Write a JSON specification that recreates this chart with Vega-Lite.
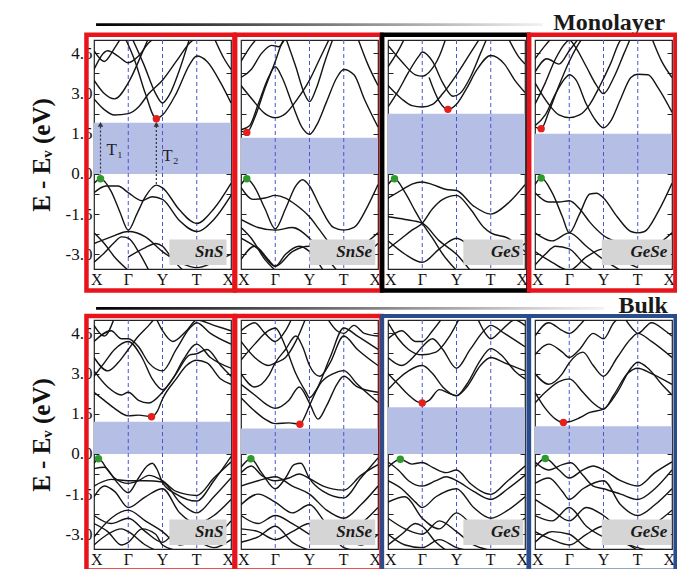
{
"$schema":"https://vega.github.io/schema/vega-lite/v6.json",
"background":"white",
"padding":{"left":28,"top":10,"right":0,"bottom":0},
"config":{"view":{"stroke":"#222","strokeWidth":1.2},"font":"Liberation Serif"},
"datasets":{
"gaps":[
{"p":"m1","m":"SnS","vbm":0,"cbm":1.91},{"p":"m2","m":"SnSe","vbm":0,"cbm":1.35},{"p":"m3","m":"GeS","vbm":0,"cbm":2.25},{"p":"m4","m":"GeSe","vbm":0,"cbm":1.5},
{"p":"b1","m":"SnS","vbm":0,"cbm":1.2},{"p":"b2","m":"SnSe","vbm":0,"cbm":0.95},{"p":"b3","m":"GeS","vbm":0,"cbm":1.74},{"p":"b4","m":"GeSe","vbm":0,"cbm":1.03}],
"sym":[{"k":1,"n":"Γ"},{"k":2,"n":"Y"},{"k":3,"n":"T"}],
"kp":[{"k":0,"n":"X"},{"k":1,"n":"Γ"},{"k":2,"n":"Y"},{"k":3,"n":"T"},{"k":4,"n":"X"}],
"heads":[{"r":"Monolayer"},{"r":"Bulk"}],
"arrows":[{"p":"m1","n":"T₁","x":0.19,"y1":-0.1,"y2":1.85,"ly":0.9},{"p":"m1","n":"T₂","x":1.82,"y1":-0.38,"y2":1.85,"ly":0.67}],
"dots":[
{"p":"m1","t":"VBM","x":0.19,"y":-0.18},{"p":"m1","t":"CBM","x":1.82,"y":2.06},
{"p":"m2","t":"VBM","x":0.17,"y":-0.18},{"p":"m2","t":"CBM","x":0.17,"y":1.55},
{"p":"m3","t":"VBM","x":0.19,"y":-0.18},{"p":"m3","t":"CBM","x":1.75,"y":2.41},
{"p":"m4","t":"VBM","x":0.18,"y":-0.15},{"p":"m4","t":"CBM","x":0.18,"y":1.69},
{"p":"b1","t":"VBM","x":0.13,"y":-0.18},{"p":"b1","t":"CBM","x":1.68,"y":1.39},
{"p":"b2","t":"VBM","x":0.29,"y":-0.18},{"p":"b2","t":"CBM","x":1.72,"y":1.11},
{"p":"b3","t":"VBM","x":0.36,"y":-0.2},{"p":"b3","t":"CBM","x":1.0,"y":1.9},
{"p":"b4","t":"VBM","x":0.3,"y":-0.17},{"p":"b4","t":"CBM","x":0.83,"y":1.17}],
"bands":[
{"p":"m1","b":"a","x":0,"y":-0.35},{"p":"m1","b":"a","x":0.19,"y":-0.18},{"p":"m1","b":"a","x":0.5,"y":-0.65},{"p":"m1","b":"a","x":0.75,"y":-1.4},{"p":"m1","b":"a","x":1,"y":-2.1},{"p":"m1","b":"a","x":1.25,"y":-1.5},{"p":"m1","b":"a","x":1.5,"y":-0.85},{"p":"m1","b":"a","x":1.82,"y":-0.42},{"p":"m1","b":"a","x":2,"y":-0.52},{"p":"m1","b":"a","x":2.5,"y":-1.35},{"p":"m1","b":"a","x":3,"y":-1.85},{"p":"m1","b":"a","x":3.5,"y":-1.3},{"p":"m1","b":"a","x":4,"y":-0.35},
{"p":"m1","b":"b","x":0,"y":-0.7},{"p":"m1","b":"b","x":0.35,"y":-0.45},{"p":"m1","b":"b","x":0.7,"y":-0.45},{"p":"m1","b":"b","x":1,"y":-0.7},{"p":"m1","b":"b","x":1.4,"y":-1.0},{"p":"m1","b":"b","x":1.7,"y":-0.85},{"p":"m1","b":"b","x":2,"y":-0.95},{"p":"m1","b":"b","x":2.5,"y":-1.75},{"p":"m1","b":"b","x":3,"y":-2.15},{"p":"m1","b":"b","x":3.5,"y":-1.7},{"p":"m1","b":"b","x":4,"y":-0.8},
{"p":"m1","b":"c","x":0,"y":-2.6},{"p":"m1","b":"c","x":0.5,"y":-2.35},{"p":"m1","b":"c","x":1,"y":-2.15},{"p":"m1","b":"c","x":1.5,"y":-2.35},{"p":"m1","b":"c","x":2,"y":-2.9},{"p":"m1","b":"c","x":2.5,"y":-3.3},{"p":"m1","b":"c","x":3,"y":-3.5},{"p":"m1","b":"c","x":3.5,"y":-3.3},{"p":"m1","b":"c","x":4,"y":-3.0},
{"p":"m1","b":"d","x":0,"y":-2.2},{"p":"m1","b":"d","x":0.3,"y":-2.6},{"p":"m1","b":"d","x":0.6,"y":-3.1},{"p":"m1","b":"d","x":1,"y":-3.6},
{"p":"m1","b":"e","x":0,"y":-3.3},{"p":"m1","b":"e","x":0.3,"y":-2.95},{"p":"m1","b":"e","x":0.6,"y":-2.55},{"p":"m1","b":"e","x":0.8,"y":-2.35},{"p":"m1","b":"e","x":1,"y":-2.4},{"p":"m1","b":"e","x":1.3,"y":-2.9},{"p":"m1","b":"e","x":1.6,"y":-3.6},
{"p":"m1","b":"f","x":1,"y":-3.1},{"p":"m1","b":"f","x":1.5,"y":-2.75},{"p":"m1","b":"f","x":1.8,"y":-2.6},{"p":"m1","b":"f","x":2,"y":-2.7},{"p":"m1","b":"f","x":2.3,"y":-3.2},{"p":"m1","b":"f","x":2.6,"y":-3.6},
{"p":"m1","b":"g","x":0,"y":2.8},{"p":"m1","b":"g","x":0.3,"y":2.4},{"p":"m1","b":"g","x":0.6,"y":2.2},{"p":"m1","b":"g","x":1,"y":2.25},{"p":"m1","b":"g","x":1.3,"y":2.5},{"p":"m1","b":"g","x":1.6,"y":3.0},{"p":"m1","b":"g","x":2,"y":3.5},{"p":"m1","b":"g","x":2.4,"y":4.2},{"p":"m1","b":"g","x":2.8,"y":4.9},{"p":"m1","b":"g","x":3,"y":5.1},
{"p":"m1","b":"h","x":0.9,"y":5.1},{"p":"m1","b":"h","x":1.2,"y":4.2},{"p":"m1","b":"h","x":1.5,"y":3.0},{"p":"m1","b":"h","x":1.82,"y":2.06},{"p":"m1","b":"h","x":2,"y":2.2},{"p":"m1","b":"h","x":2.4,"y":3.0},{"p":"m1","b":"h","x":2.8,"y":4.1},{"p":"m1","b":"h","x":3,"y":4.4},{"p":"m1","b":"h","x":3.3,"y":4.2},{"p":"m1","b":"h","x":3.7,"y":3.4},{"p":"m1","b":"h","x":4,"y":2.65},
{"p":"m1","b":"i","x":0,"y":3.5},{"p":"m1","b":"i","x":0.3,"y":3.0},{"p":"m1","b":"i","x":0.6,"y":2.8},{"p":"m1","b":"i","x":1,"y":3.4},{"p":"m1","b":"i","x":1.4,"y":4.5},{"p":"m1","b":"i","x":1.6,"y":5.1},
{"p":"m1","b":"j","x":1.1,"y":5.1},{"p":"m1","b":"j","x":1.45,"y":4.1},{"p":"m1","b":"j","x":1.8,"y":3.0},{"p":"m1","b":"j","x":2,"y":2.65},{"p":"m1","b":"j","x":2.2,"y":2.95},{"p":"m1","b":"j","x":2.5,"y":3.9},{"p":"m1","b":"j","x":2.8,"y":5.1},
{"p":"m1","b":"k","x":0,"y":3.9},{"p":"m1","b":"k","x":0.4,"y":4.6},{"p":"m1","b":"k","x":0.7,"y":4.4},{"p":"m1","b":"k","x":1,"y":4.15},{"p":"m1","b":"k","x":1.3,"y":4.4},{"p":"m1","b":"k","x":1.6,"y":4.9},{"p":"m1","b":"k","x":1.8,"y":5.1},
{"p":"m1","b":"l","x":0,"y":4.6},{"p":"m1","b":"l","x":0.3,"y":4.2},{"p":"m1","b":"l","x":0.6,"y":4.7},{"p":"m1","b":"l","x":0.8,"y":5.1},
{"p":"m1","b":"m","x":3.5,"y":5.1},{"p":"m1","b":"m","x":3.8,"y":4.3},{"p":"m1","b":"m","x":4,"y":3.9},

{"p":"m2","b":"a","x":0,"y":-0.4},{"p":"m2","b":"a","x":0.17,"y":-0.18},{"p":"m2","b":"a","x":0.4,"y":-0.5},{"p":"m2","b":"a","x":0.7,"y":-1.3},{"p":"m2","b":"a","x":1,"y":-2.05},{"p":"m2","b":"a","x":1.3,"y":-1.3},{"p":"m2","b":"a","x":1.6,"y":-0.45},{"p":"m2","b":"a","x":1.8,"y":-0.22},{"p":"m2","b":"a","x":2,"y":-0.45},{"p":"m2","b":"a","x":2.3,"y":-1.2},{"p":"m2","b":"a","x":2.7,"y":-2.0},{"p":"m2","b":"a","x":3,"y":-2.1},{"p":"m2","b":"a","x":3.3,"y":-2.0},{"p":"m2","b":"a","x":3.7,"y":-1.2},{"p":"m2","b":"a","x":4,"y":-0.4},
{"p":"m2","b":"b","x":0,"y":-0.5},{"p":"m2","b":"b","x":0.35,"y":-0.95},{"p":"m2","b":"b","x":0.7,"y":-0.9},{"p":"m2","b":"b","x":1,"y":-0.8},{"p":"m2","b":"b","x":1.3,"y":-0.9},{"p":"m2","b":"b","x":1.6,"y":-1.15},{"p":"m2","b":"b","x":2,"y":-1.6},{"p":"m2","b":"b","x":2.3,"y":-2.1},{"p":"m2","b":"b","x":2.6,"y":-2.6},{"p":"m2","b":"b","x":3,"y":-2.9},{"p":"m2","b":"b","x":3.5,"y":-2.7},{"p":"m2","b":"b","x":4,"y":-2.2},
{"p":"m2","b":"c","x":0,"y":-1.7},{"p":"m2","b":"c","x":0.5,"y":-2.0},{"p":"m2","b":"c","x":1,"y":-2.1},{"p":"m2","b":"c","x":1.5,"y":-2.0},{"p":"m2","b":"c","x":2,"y":-2.4},{"p":"m2","b":"c","x":2.4,"y":-3.0},{"p":"m2","b":"c","x":2.8,"y":-3.6},
{"p":"m2","b":"d","x":0,"y":-2.4},{"p":"m2","b":"d","x":0.5,"y":-2.8},{"p":"m2","b":"d","x":1,"y":-3.45},{"p":"m2","b":"d","x":1.5,"y":-2.9},{"p":"m2","b":"d","x":2,"y":-2.7},{"p":"m2","b":"d","x":2.5,"y":-3.1},{"p":"m2","b":"d","x":3,"y":-3.3},{"p":"m2","b":"d","x":3.5,"y":-3.1},{"p":"m2","b":"d","x":4,"y":-2.6},
{"p":"m2","b":"e","x":0,"y":-3.2},{"p":"m2","b":"e","x":0.4,"y":-2.7},{"p":"m2","b":"e","x":0.8,"y":-3.2},{"p":"m2","b":"e","x":1,"y":-3.45},{"p":"m2","b":"e","x":1.3,"y":-3.0},{"p":"m2","b":"e","x":1.7,"y":-2.7},{"p":"m2","b":"e","x":2,"y":-2.9},{"p":"m2","b":"e","x":2.4,"y":-3.6},
{"p":"m2","b":"f","x":0,"y":-2.0},{"p":"m2","b":"f","x":0.3,"y":-2.4},{"p":"m2","b":"f","x":0.7,"y":-3.2},{"p":"m2","b":"f","x":1,"y":-3.6},
{"p":"m2","b":"g","x":0,"y":1.6},{"p":"m2","b":"g","x":0.17,"y":1.55},{"p":"m2","b":"g","x":0.4,"y":2.1},{"p":"m2","b":"g","x":0.7,"y":3.2},{"p":"m2","b":"g","x":1,"y":4.2},{"p":"m2","b":"g","x":1.2,"y":4.9},{"p":"m2","b":"g","x":1.3,"y":5.1},
{"p":"m2","b":"h","x":0,"y":1.65},{"p":"m2","b":"h","x":0.25,"y":1.8},{"p":"m2","b":"h","x":0.5,"y":2.6},{"p":"m2","b":"h","x":0.8,"y":3.6},{"p":"m2","b":"h","x":1,"y":4.0},{"p":"m2","b":"h","x":1.2,"y":3.6},{"p":"m2","b":"h","x":1.5,"y":2.6},{"p":"m2","b":"h","x":1.8,"y":1.7},{"p":"m2","b":"h","x":2,"y":1.48},{"p":"m2","b":"h","x":2.2,"y":1.8},{"p":"m2","b":"h","x":2.5,"y":2.7},{"p":"m2","b":"h","x":2.8,"y":3.6},{"p":"m2","b":"h","x":3,"y":3.9},{"p":"m2","b":"h","x":3.3,"y":3.7},{"p":"m2","b":"h","x":3.6,"y":2.8},{"p":"m2","b":"h","x":4,"y":1.75},
{"p":"m2","b":"i","x":0,"y":3.3},{"p":"m2","b":"i","x":0.35,"y":2.75},{"p":"m2","b":"i","x":0.7,"y":2.25},{"p":"m2","b":"i","x":1,"y":2.1},{"p":"m2","b":"i","x":1.3,"y":2.25},{"p":"m2","b":"i","x":1.65,"y":2.8},{"p":"m2","b":"i","x":2,"y":3.5},{"p":"m2","b":"i","x":2.3,"y":4.3},{"p":"m2","b":"i","x":2.6,"y":5.1},
{"p":"m2","b":"j","x":1.3,"y":5.1},{"p":"m2","b":"j","x":1.6,"y":4.0},{"p":"m2","b":"j","x":1.85,"y":3.0},{"p":"m2","b":"j","x":2,"y":2.7},{"p":"m2","b":"j","x":2.2,"y":3.2},{"p":"m2","b":"j","x":2.45,"y":4.2},{"p":"m2","b":"j","x":2.7,"y":5.1},
{"p":"m2","b":"k","x":3.4,"y":5.1},{"p":"m2","b":"k","x":3.7,"y":4.1},{"p":"m2","b":"k","x":4,"y":3.3},
{"p":"m2","b":"l","x":0,"y":4.2},{"p":"m2","b":"l","x":0.3,"y":4.8},{"p":"m2","b":"l","x":0.5,"y":5.1},
{"p":"m2","b":"m","x":0,"y":3.6},{"p":"m2","b":"m","x":0.3,"y":3.9},{"p":"m2","b":"m","x":0.6,"y":4.5},{"p":"m2","b":"m","x":0.9,"y":4.8},{"p":"m2","b":"m","x":1.1,"y":4.75},{"p":"m2","b":"m","x":1.3,"y":5.1},

{"p":"m3","b":"a","x":0,"y":-0.4},{"p":"m3","b":"a","x":0.19,"y":-0.18},{"p":"m3","b":"a","x":0.5,"y":-0.7},{"p":"m3","b":"a","x":0.8,"y":-1.4},{"p":"m3","b":"a","x":1,"y":-1.84},{"p":"m3","b":"a","x":1.3,"y":-2.4},{"p":"m3","b":"a","x":1.6,"y":-3.0},{"p":"m3","b":"a","x":2,"y":-3.6},
{"p":"m3","b":"b","x":0,"y":-0.9},{"p":"m3","b":"b","x":0.4,"y":-0.6},{"p":"m3","b":"b","x":0.7,"y":-0.38},{"p":"m3","b":"b","x":1,"y":-0.3},{"p":"m3","b":"b","x":1.3,"y":-0.4},{"p":"m3","b":"b","x":1.7,"y":-0.58},{"p":"m3","b":"b","x":2,"y":-0.62},{"p":"m3","b":"b","x":2.5,"y":-1.2},{"p":"m3","b":"b","x":3,"y":-1.5},{"p":"m3","b":"b","x":3.5,"y":-1.1},{"p":"m3","b":"b","x":4,"y":-0.4},
{"p":"m3","b":"c","x":0,"y":-2.8},{"p":"m3","b":"c","x":0.4,"y":-2.4},{"p":"m3","b":"c","x":0.7,"y":-2.1},{"p":"m3","b":"c","x":1,"y":-1.84},{"p":"m3","b":"c","x":1.3,"y":-1.3},{"p":"m3","b":"c","x":1.6,"y":-0.95},{"p":"m3","b":"c","x":2,"y":-0.8},{"p":"m3","b":"c","x":2.4,"y":-1.3},{"p":"m3","b":"c","x":2.8,"y":-2.0},{"p":"m3","b":"c","x":3,"y":-2.2},{"p":"m3","b":"c","x":3.5,"y":-2.4},{"p":"m3","b":"c","x":4,"y":-2.9},
{"p":"m3","b":"d","x":0,"y":-1.6},{"p":"m3","b":"d","x":0.5,"y":-1.7},{"p":"m3","b":"d","x":1,"y":-1.84},{"p":"m3","b":"d","x":1.5,"y":-2.5},{"p":"m3","b":"d","x":2,"y":-3.0},{"p":"m3","b":"d","x":2.4,"y":-3.6},
{"p":"m3","b":"e","x":0,"y":-2.5},{"p":"m3","b":"e","x":0.5,"y":-3.0},{"p":"m3","b":"e","x":1,"y":-3.3},{"p":"m3","b":"e","x":1.5,"y":-2.8},{"p":"m3","b":"e","x":2,"y":-2.4},{"p":"m3","b":"e","x":2.5,"y":-2.8},{"p":"m3","b":"e","x":3,"y":-3.2},{"p":"m3","b":"e","x":3.5,"y":-3.0},{"p":"m3","b":"e","x":4,"y":-2.6},
{"p":"m3","b":"f","x":1.2,"y":3.6},{"p":"m3","b":"f","x":1.5,"y":2.7},{"p":"m3","b":"f","x":1.75,"y":2.41},{"p":"m3","b":"f","x":2,"y":2.6},{"p":"m3","b":"f","x":2.3,"y":3.2},{"p":"m3","b":"f","x":2.6,"y":3.9},{"p":"m3","b":"f","x":3,"y":4.42},{"p":"m3","b":"f","x":3.4,"y":4.1},{"p":"m3","b":"f","x":3.7,"y":3.5},{"p":"m3","b":"f","x":4,"y":3.04},
{"p":"m3","b":"g","x":0,"y":3.3},{"p":"m3","b":"g","x":0.4,"y":2.8},{"p":"m3","b":"g","x":0.7,"y":2.55},{"p":"m3","b":"g","x":1,"y":2.5},{"p":"m3","b":"g","x":1.3,"y":2.6},{"p":"m3","b":"g","x":1.6,"y":3.0},{"p":"m3","b":"g","x":2,"y":3.7},{"p":"m3","b":"g","x":2.4,"y":4.5},{"p":"m3","b":"g","x":2.7,"y":5.1},
{"p":"m3","b":"h","x":0,"y":2.5},{"p":"m3","b":"h","x":0.3,"y":3.1},{"p":"m3","b":"h","x":0.6,"y":3.8},{"p":"m3","b":"h","x":0.9,"y":4.4},{"p":"m3","b":"h","x":1,"y":4.55},{"p":"m3","b":"h","x":1.3,"y":4.2},{"p":"m3","b":"h","x":1.6,"y":3.4},{"p":"m3","b":"h","x":1.9,"y":2.9},{"p":"m3","b":"h","x":2.1,"y":3.0},{"p":"m3","b":"h","x":2.4,"y":3.6},{"p":"m3","b":"h","x":2.7,"y":4.5},{"p":"m3","b":"h","x":2.9,"y":5.1},
{"p":"m3","b":"i","x":0,"y":4.0},{"p":"m3","b":"i","x":0.3,"y":4.6},{"p":"m3","b":"i","x":0.5,"y":5.1},
{"p":"m3","b":"j","x":0,"y":4.8},{"p":"m3","b":"j","x":0.4,"y":4.2},{"p":"m3","b":"j","x":0.8,"y":3.7},{"p":"m3","b":"j","x":1,"y":3.65},{"p":"m3","b":"j","x":1.2,"y":3.8},{"p":"m3","b":"j","x":1.5,"y":4.4},{"p":"m3","b":"j","x":1.7,"y":5.1},
{"p":"m3","b":"k","x":3.5,"y":5.1},{"p":"m3","b":"k","x":3.8,"y":4.4},{"p":"m3","b":"k","x":4,"y":4.1},

{"p":"m4","b":"a","x":0,"y":-0.4},{"p":"m4","b":"a","x":0.18,"y":-0.15},{"p":"m4","b":"a","x":0.5,"y":-0.7},{"p":"m4","b":"a","x":0.8,"y":-1.6},{"p":"m4","b":"a","x":1,"y":-2.2},{"p":"m4","b":"a","x":1.3,"y":-1.5},{"p":"m4","b":"a","x":1.6,"y":-0.75},{"p":"m4","b":"a","x":1.8,"y":-0.72},{"p":"m4","b":"a","x":2,"y":-0.9},{"p":"m4","b":"a","x":2.4,"y":-1.6},{"p":"m4","b":"a","x":2.8,"y":-2.15},{"p":"m4","b":"a","x":3,"y":-2.2},{"p":"m4","b":"a","x":3.2,"y":-2.15},{"p":"m4","b":"a","x":3.6,"y":-1.4},{"p":"m4","b":"a","x":4,"y":-0.35},
{"p":"m4","b":"b","x":0,"y":-0.7},{"p":"m4","b":"b","x":0.4,"y":-1.05},{"p":"m4","b":"b","x":0.7,"y":-1.05},{"p":"m4","b":"b","x":1,"y":-1.0},{"p":"m4","b":"b","x":1.3,"y":-1.3},{"p":"m4","b":"b","x":1.6,"y":-1.8},{"p":"m4","b":"b","x":2,"y":-2.3},{"p":"m4","b":"b","x":2.5,"y":-2.6},{"p":"m4","b":"b","x":3,"y":-2.9},{"p":"m4","b":"b","x":3.5,"y":-2.7},{"p":"m4","b":"b","x":4,"y":-2.2},
{"p":"m4","b":"c","x":0,"y":-2.2},{"p":"m4","b":"c","x":0.5,"y":-2.5},{"p":"m4","b":"c","x":1,"y":-2.2},{"p":"m4","b":"c","x":1.5,"y":-2.7},{"p":"m4","b":"c","x":2,"y":-3.2},{"p":"m4","b":"c","x":2.5,"y":-3.6},
{"p":"m4","b":"d","x":0,"y":-2.9},{"p":"m4","b":"d","x":0.5,"y":-3.3},{"p":"m4","b":"d","x":1,"y":-3.6},{"p":"m4","b":"d","x":1.5,"y":-3.1},{"p":"m4","b":"d","x":2,"y":-2.8},{"p":"m4","b":"d","x":2.5,"y":-3.2},{"p":"m4","b":"d","x":3,"y":-3.5},
{"p":"m4","b":"e","x":0,"y":-3.4},{"p":"m4","b":"e","x":0.3,"y":-3.0},{"p":"m4","b":"e","x":0.6,"y":-2.7},{"p":"m4","b":"e","x":1,"y":-2.8},{"p":"m4","b":"e","x":1.4,"y":-3.3},{"p":"m4","b":"e","x":1.7,"y":-3.6},
{"p":"m4","b":"f","x":0,"y":1.75},{"p":"m4","b":"f","x":0.18,"y":1.69},{"p":"m4","b":"f","x":0.4,"y":2.3},{"p":"m4","b":"f","x":0.7,"y":3.3},{"p":"m4","b":"f","x":1,"y":4.2},{"p":"m4","b":"f","x":1.2,"y":4.7},{"p":"m4","b":"f","x":1.4,"y":5.1},
{"p":"m4","b":"g","x":0,"y":1.8},{"p":"m4","b":"g","x":0.3,"y":2.2},{"p":"m4","b":"g","x":0.6,"y":3.0},{"p":"m4","b":"g","x":0.9,"y":3.6},{"p":"m4","b":"g","x":1,"y":3.7},{"p":"m4","b":"g","x":1.2,"y":3.5},{"p":"m4","b":"g","x":1.5,"y":2.6},{"p":"m4","b":"g","x":1.8,"y":1.95},{"p":"m4","b":"g","x":2,"y":1.72},{"p":"m4","b":"g","x":2.2,"y":1.95},{"p":"m4","b":"g","x":2.5,"y":2.8},{"p":"m4","b":"g","x":2.8,"y":3.6},{"p":"m4","b":"g","x":3,"y":3.72},{"p":"m4","b":"g","x":3.3,"y":3.7},{"p":"m4","b":"g","x":3.6,"y":3.2},{"p":"m4","b":"g","x":4,"y":2.3},
{"p":"m4","b":"h","x":0,"y":3.4},{"p":"m4","b":"h","x":0.4,"y":2.6},{"p":"m4","b":"h","x":0.7,"y":2.2},{"p":"m4","b":"h","x":1,"y":2.1},{"p":"m4","b":"h","x":1.3,"y":2.2},{"p":"m4","b":"h","x":1.6,"y":2.6},{"p":"m4","b":"h","x":1.9,"y":3.3},{"p":"m4","b":"h","x":2.2,"y":4.1},{"p":"m4","b":"h","x":2.5,"y":5.0},{"p":"m4","b":"h","x":2.6,"y":5.1},
{"p":"m4","b":"i","x":0,"y":4.3},{"p":"m4","b":"i","x":0.3,"y":4.8},{"p":"m4","b":"i","x":0.5,"y":5.1},
{"p":"m4","b":"j","x":0,"y":2.6},{"p":"m4","b":"j","x":0.3,"y":3.4},{"p":"m4","b":"j","x":0.6,"y":4.3},{"p":"m4","b":"j","x":0.9,"y":4.9},{"p":"m4","b":"j","x":1,"y":5.0},{"p":"m4","b":"j","x":1.2,"y":4.7},{"p":"m4","b":"j","x":1.5,"y":4.0},{"p":"m4","b":"j","x":1.8,"y":3.3},{"p":"m4","b":"j","x":2,"y":3.0},{"p":"m4","b":"j","x":2.3,"y":3.6},{"p":"m4","b":"j","x":2.6,"y":4.5},{"p":"m4","b":"j","x":2.8,"y":5.1},
{"p":"m4","b":"k","x":3.4,"y":5.1},{"p":"m4","b":"k","x":3.7,"y":4.2},{"p":"m4","b":"k","x":4,"y":3.6},
{"p":"m4","b":"l","x":0,"y":3.8},{"p":"m4","b":"l","x":0.35,"y":4.3},{"p":"m4","b":"l","x":0.7,"y":4.1},{"p":"m4","b":"l","x":1,"y":4.6},{"p":"m4","b":"l","x":1.3,"y":5.1},

{"p":"b1","b":"a","x":0,"y":-0.35},{"p":"b1","b":"a","x":0.13,"y":-0.18},{"p":"b1","b":"a","x":0.4,"y":-0.6},{"p":"b1","b":"a","x":0.7,"y":-1.1},{"p":"b1","b":"a","x":1,"y":-1.45},{"p":"b1","b":"a","x":1.3,"y":-0.9},{"p":"b1","b":"a","x":1.55,"y":-0.45},{"p":"b1","b":"a","x":1.7,"y":-0.35},{"p":"b1","b":"a","x":1.85,"y":-0.6},{"p":"b1","b":"a","x":2,"y":-1.07},{"p":"b1","b":"a","x":2.4,"y":-1.5},{"p":"b1","b":"a","x":3,"y":-1.76},{"p":"b1","b":"a","x":3.5,"y":-1.0},{"p":"b1","b":"a","x":4,"y":-0.1},
{"p":"b1","b":"b","x":0,"y":-0.55},{"p":"b1","b":"b","x":0.3,"y":-0.5},{"p":"b1","b":"b","x":0.6,"y":-0.9},{"p":"b1","b":"b","x":1,"y":-1.1},{"p":"b1","b":"b","x":1.3,"y":-1.0},{"p":"b1","b":"b","x":1.6,"y":-0.8},{"p":"b1","b":"b","x":2,"y":-1.0},{"p":"b1","b":"b","x":2.4,"y":-1.4},{"p":"b1","b":"b","x":3,"y":-1.55},{"p":"b1","b":"b","x":3.5,"y":-0.9},{"p":"b1","b":"b","x":4,"y":-0.3},
{"p":"b1","b":"c","x":0,"y":-1.2},{"p":"b1","b":"c","x":0.5,"y":-0.95},{"p":"b1","b":"c","x":1,"y":-1.0},{"p":"b1","b":"c","x":1.5,"y":-1.0},{"p":"b1","b":"c","x":2,"y":-1.05},{"p":"b1","b":"c","x":2.5,"y":-1.8},{"p":"b1","b":"c","x":3,"y":-2.2},{"p":"b1","b":"c","x":3.5,"y":-1.6},{"p":"b1","b":"c","x":4,"y":-0.9},
{"p":"b1","b":"d","x":0,"y":-1.6},{"p":"b1","b":"d","x":0.3,"y":-1.2},{"p":"b1","b":"d","x":0.6,"y":-1.4},{"p":"b1","b":"d","x":1,"y":-2.0},{"p":"b1","b":"d","x":1.5,"y":-1.6},{"p":"b1","b":"d","x":2,"y":-1.3},{"p":"b1","b":"d","x":2.5,"y":-2.2},{"p":"b1","b":"d","x":3,"y":-2.6},{"p":"b1","b":"d","x":3.5,"y":-2.3},{"p":"b1","b":"d","x":4,"y":-1.7},
{"p":"b1","b":"e","x":0,"y":-2.3},{"p":"b1","b":"e","x":0.5,"y":-2.6},{"p":"b1","b":"e","x":1,"y":-2.4},{"p":"b1","b":"e","x":1.5,"y":-2.9},{"p":"b1","b":"e","x":2,"y":-3.3},{"p":"b1","b":"e","x":2.5,"y":-2.8},{"p":"b1","b":"e","x":3,"y":-2.9},{"p":"b1","b":"e","x":3.5,"y":-3.0},{"p":"b1","b":"e","x":4,"y":-2.5},
{"p":"b1","b":"f","x":0,"y":-2.6},{"p":"b1","b":"f","x":0.4,"y":-2.9},{"p":"b1","b":"f","x":0.8,"y":-3.4},{"p":"b1","b":"f","x":1,"y":-3.3},{"p":"b1","b":"f","x":1.4,"y":-2.8},{"p":"b1","b":"f","x":1.8,"y":-3.0},{"p":"b1","b":"f","x":2,"y":-3.4},{"p":"b1","b":"f","x":2.4,"y":-3.6},
{"p":"b1","b":"g","x":0,"y":-3.1},{"p":"b1","b":"g","x":0.5,"y":-2.4},{"p":"b1","b":"g","x":1,"y":-2.1},{"p":"b1","b":"g","x":1.5,"y":-2.5},{"p":"b1","b":"g","x":2,"y":-2.9},{"p":"b1","b":"g","x":2.5,"y":-3.4},{"p":"b1","b":"g","x":3,"y":-3.3},{"p":"b1","b":"g","x":3.5,"y":-3.5},{"p":"b1","b":"g","x":4,"y":-3.2},
{"p":"b1","b":"h","x":0,"y":-3.4},{"p":"b1","b":"h","x":0.4,"y":-3.0},{"p":"b1","b":"h","x":0.8,"y":-2.8},{"p":"b1","b":"h","x":1,"y":-2.9},{"p":"b1","b":"h","x":1.5,"y":-3.4},{"p":"b1","b":"h","x":1.8,"y":-3.6},
{"p":"b1","b":"i","x":0,"y":2.3},{"p":"b1","b":"i","x":0.3,"y":2.0},{"p":"b1","b":"i","x":0.6,"y":1.7},{"p":"b1","b":"i","x":1,"y":1.42},{"p":"b1","b":"i","x":1.3,"y":1.45},{"p":"b1","b":"i","x":1.68,"y":1.39},{"p":"b1","b":"i","x":1.85,"y":1.6},{"p":"b1","b":"i","x":2,"y":2.05},{"p":"b1","b":"i","x":2.4,"y":2.8},{"p":"b1","b":"i","x":2.7,"y":3.3},{"p":"b1","b":"i","x":3,"y":3.5},{"p":"b1","b":"i","x":3.3,"y":3.4},{"p":"b1","b":"i","x":3.7,"y":2.8},{"p":"b1","b":"i","x":4,"y":2.6},
{"p":"b1","b":"j","x":0,"y":3.1},{"p":"b1","b":"j","x":0.4,"y":2.5},{"p":"b1","b":"j","x":0.8,"y":2.2},{"p":"b1","b":"j","x":1,"y":2.3},{"p":"b1","b":"j","x":1.3,"y":2.0},{"p":"b1","b":"j","x":1.6,"y":1.9},{"p":"b1","b":"j","x":2,"y":2.3},{"p":"b1","b":"j","x":2.4,"y":3.0},{"p":"b1","b":"j","x":2.8,"y":3.7},{"p":"b1","b":"j","x":3,"y":3.74},{"p":"b1","b":"j","x":3.3,"y":3.9},{"p":"b1","b":"j","x":3.7,"y":3.3},{"p":"b1","b":"j","x":4,"y":2.9},
{"p":"b1","b":"k","x":0,"y":2.9},{"p":"b1","b":"k","x":0.3,"y":3.4},{"p":"b1","b":"k","x":0.6,"y":3.9},{"p":"b1","b":"k","x":1,"y":4.2},{"p":"b1","b":"k","x":1.4,"y":3.6},{"p":"b1","b":"k","x":1.7,"y":2.8},{"p":"b1","b":"k","x":2,"y":2.4},{"p":"b1","b":"k","x":2.3,"y":2.8},{"p":"b1","b":"k","x":2.6,"y":3.5},{"p":"b1","b":"k","x":3,"y":4.1},{"p":"b1","b":"k","x":3.4,"y":3.6},{"p":"b1","b":"k","x":4,"y":3.2},
{"p":"b1","b":"l","x":0,"y":3.6},{"p":"b1","b":"l","x":0.4,"y":3.1},{"p":"b1","b":"l","x":0.7,"y":3.4},{"p":"b1","b":"l","x":1,"y":3.9},{"p":"b1","b":"l","x":1.3,"y":4.4},{"p":"b1","b":"l","x":1.6,"y":4.8},{"p":"b1","b":"l","x":1.8,"y":5.1},
{"p":"b1","b":"m","x":0,"y":4.2},{"p":"b1","b":"m","x":0.5,"y":4.6},{"p":"b1","b":"m","x":0.8,"y":4.3},{"p":"b1","b":"m","x":1,"y":4.3},{"p":"b1","b":"m","x":1.3,"y":4.0},{"p":"b1","b":"m","x":1.6,"y":3.4},{"p":"b1","b":"m","x":2,"y":3.1},{"p":"b1","b":"m","x":2.4,"y":3.9},{"p":"b1","b":"m","x":2.8,"y":4.7},{"p":"b1","b":"m","x":3,"y":4.9},{"p":"b1","b":"m","x":3.4,"y":4.5},{"p":"b1","b":"m","x":4,"y":4.1},
{"p":"b1","b":"n","x":0,"y":4.8},{"p":"b1","b":"n","x":0.3,"y":4.4},{"p":"b1","b":"n","x":0.6,"y":5.1},
{"p":"b1","b":"o","x":1.8,"y":5.1},{"p":"b1","b":"o","x":2,"y":4.6},{"p":"b1","b":"o","x":2.3,"y":4.2},{"p":"b1","b":"o","x":2.7,"y":4.6},{"p":"b1","b":"o","x":3,"y":5.0},{"p":"b1","b":"o","x":3.5,"y":4.8},{"p":"b1","b":"o","x":4,"y":4.6},

{"p":"b2","b":"a","x":0,"y":-0.5},{"p":"b2","b":"a","x":0.29,"y":-0.18},{"p":"b2","b":"a","x":0.6,"y":-0.7},{"p":"b2","b":"a","x":1,"y":-1.3},{"p":"b2","b":"a","x":1.3,"y":-0.9},{"p":"b2","b":"a","x":1.55,"y":-0.4},{"p":"b2","b":"a","x":1.75,"y":-0.35},{"p":"b2","b":"a","x":2,"y":-0.92},{"p":"b2","b":"a","x":2.4,"y":-1.4},{"p":"b2","b":"a","x":3,"y":-1.64},{"p":"b2","b":"a","x":3.5,"y":-0.9},{"p":"b2","b":"a","x":4,"y":-0.15},
{"p":"b2","b":"b","x":0,"y":-0.7},{"p":"b2","b":"b","x":0.3,"y":-0.45},{"p":"b2","b":"b","x":0.6,"y":-0.8},{"p":"b2","b":"b","x":1,"y":-1.0},{"p":"b2","b":"b","x":1.4,"y":-0.9},{"p":"b2","b":"b","x":1.7,"y":-0.75},{"p":"b2","b":"b","x":2,"y":-0.92},{"p":"b2","b":"b","x":2.4,"y":-1.2},{"p":"b2","b":"b","x":3,"y":-1.35},{"p":"b2","b":"b","x":3.5,"y":-0.8},{"p":"b2","b":"b","x":4,"y":-0.4},
{"p":"b2","b":"c","x":0,"y":-1.2},{"p":"b2","b":"c","x":0.5,"y":-1.0},{"p":"b2","b":"c","x":1,"y":-0.85},{"p":"b2","b":"c","x":1.5,"y":-1.2},{"p":"b2","b":"c","x":2,"y":-1.5},{"p":"b2","b":"c","x":2.5,"y":-2.1},{"p":"b2","b":"c","x":3,"y":-2.4},{"p":"b2","b":"c","x":3.5,"y":-1.9},{"p":"b2","b":"c","x":4,"y":-1.2},
{"p":"b2","b":"d","x":0,"y":-1.9},{"p":"b2","b":"d","x":0.5,"y":-1.5},{"p":"b2","b":"d","x":1,"y":-1.8},{"p":"b2","b":"d","x":1.5,"y":-2.2},{"p":"b2","b":"d","x":2,"y":-1.9},{"p":"b2","b":"d","x":2.5,"y":-2.6},{"p":"b2","b":"d","x":3,"y":-2.9},{"p":"b2","b":"d","x":3.5,"y":-2.6},{"p":"b2","b":"d","x":4,"y":-2.0},
{"p":"b2","b":"e","x":0,"y":-2.3},{"p":"b2","b":"e","x":0.5,"y":-2.6},{"p":"b2","b":"e","x":1,"y":-2.3},{"p":"b2","b":"e","x":1.5,"y":-2.6},{"p":"b2","b":"e","x":2,"y":-3.0},{"p":"b2","b":"e","x":2.5,"y":-3.3},{"p":"b2","b":"e","x":3,"y":-3.2},{"p":"b2","b":"e","x":3.5,"y":-3.4},{"p":"b2","b":"e","x":4,"y":-3.0},
{"p":"b2","b":"f","x":0,"y":-2.8},{"p":"b2","b":"f","x":0.5,"y":-2.9},{"p":"b2","b":"f","x":1,"y":-3.2},{"p":"b2","b":"f","x":1.5,"y":-2.9},{"p":"b2","b":"f","x":2,"y":-2.6},{"p":"b2","b":"f","x":2.5,"y":-2.9},{"p":"b2","b":"f","x":3,"y":-3.5},{"p":"b2","b":"f","x":3.3,"y":-3.6},
{"p":"b2","b":"g","x":0,"y":-3.3},{"p":"b2","b":"g","x":0.5,"y":-3.1},{"p":"b2","b":"g","x":1,"y":-2.7},{"p":"b2","b":"g","x":1.5,"y":-3.3},{"p":"b2","b":"g","x":2,"y":-3.6},
{"p":"b2","b":"h","x":0,"y":2.1},{"p":"b2","b":"h","x":0.4,"y":1.6},{"p":"b2","b":"h","x":0.7,"y":1.3},{"p":"b2","b":"h","x":1,"y":1.13},{"p":"b2","b":"h","x":1.4,"y":1.16},{"p":"b2","b":"h","x":1.72,"y":1.11},{"p":"b2","b":"h","x":1.9,"y":1.5},{"p":"b2","b":"h","x":2,"y":1.8},{"p":"b2","b":"h","x":2.3,"y":2.6},{"p":"b2","b":"h","x":2.7,"y":3.0},{"p":"b2","b":"h","x":3,"y":3.11},{"p":"b2","b":"h","x":3.4,"y":2.6},{"p":"b2","b":"h","x":4,"y":1.92},
{"p":"b2","b":"i","x":0,"y":2.6},{"p":"b2","b":"i","x":0.4,"y":2.2},{"p":"b2","b":"i","x":0.8,"y":1.8},{"p":"b2","b":"i","x":1,"y":1.7},{"p":"b2","b":"i","x":1.4,"y":2.0},{"p":"b2","b":"i","x":1.7,"y":2.5},{"p":"b2","b":"i","x":2,"y":1.9},{"p":"b2","b":"i","x":2.25,"y":1.3},{"p":"b2","b":"i","x":2.5,"y":1.8},{"p":"b2","b":"i","x":2.8,"y":2.6},{"p":"b2","b":"i","x":3,"y":2.9},{"p":"b2","b":"i","x":3.4,"y":2.5},{"p":"b2","b":"i","x":4,"y":2.3},
{"p":"b2","b":"j","x":0,"y":3.0},{"p":"b2","b":"j","x":0.4,"y":2.5},{"p":"b2","b":"j","x":0.8,"y":2.9},{"p":"b2","b":"j","x":1,"y":3.4},{"p":"b2","b":"j","x":1.3,"y":3.9},{"p":"b2","b":"j","x":1.6,"y":4.4},{"p":"b2","b":"j","x":1.8,"y":4.0},{"p":"b2","b":"j","x":2,"y":3.3},{"p":"b2","b":"j","x":2.3,"y":2.9},{"p":"b2","b":"j","x":2.6,"y":3.4},{"p":"b2","b":"j","x":3,"y":4.4},{"p":"b2","b":"j","x":3.4,"y":3.9},{"p":"b2","b":"j","x":4,"y":3.3},
{"p":"b2","b":"k","x":0,"y":3.5},{"p":"b2","b":"k","x":0.4,"y":4.1},{"p":"b2","b":"k","x":0.8,"y":4.6},{"p":"b2","b":"k","x":1,"y":4.7},{"p":"b2","b":"k","x":1.3,"y":4.0},{"p":"b2","b":"k","x":1.6,"y":3.0},{"p":"b2","b":"k","x":1.9,"y":2.3},{"p":"b2","b":"k","x":2,"y":2.1},{"p":"b2","b":"k","x":2.2,"y":2.4},{"p":"b2","b":"k","x":2.6,"y":3.6},{"p":"b2","b":"k","x":3,"y":4.7},{"p":"b2","b":"k","x":3.4,"y":4.4},{"p":"b2","b":"k","x":4,"y":3.9},
{"p":"b2","b":"l","x":0,"y":4.2},{"p":"b2","b":"l","x":0.4,"y":3.6},{"p":"b2","b":"l","x":0.8,"y":3.3},{"p":"b2","b":"l","x":1,"y":3.4},{"p":"b2","b":"l","x":1.3,"y":3.6},{"p":"b2","b":"l","x":1.6,"y":4.2},{"p":"b2","b":"l","x":1.9,"y":5.1},
{"p":"b2","b":"m","x":0,"y":4.6},{"p":"b2","b":"m","x":0.4,"y":4.9},{"p":"b2","b":"m","x":0.7,"y":4.5},{"p":"b2","b":"m","x":1,"y":4.2},{"p":"b2","b":"m","x":1.3,"y":4.6},{"p":"b2","b":"m","x":1.5,"y":5.1},
{"p":"b2","b":"n","x":2.5,"y":5.1},{"p":"b2","b":"n","x":2.8,"y":4.6},{"p":"b2","b":"n","x":3,"y":4.5},{"p":"b2","b":"n","x":3.3,"y":4.8},{"p":"b2","b":"n","x":3.6,"y":4.5},{"p":"b2","b":"n","x":4,"y":4.4},

{"p":"b3","b":"a","x":0,"y":-0.5},{"p":"b3","b":"a","x":0.36,"y":-0.2},{"p":"b3","b":"a","x":0.7,"y":-0.38},{"p":"b3","b":"a","x":1,"y":-0.32},{"p":"b3","b":"a","x":1.3,"y":-0.5},{"p":"b3","b":"a","x":1.7,"y":-0.7},{"p":"b3","b":"a","x":2,"y":-0.6},{"p":"b3","b":"a","x":2.4,"y":-1.1},{"p":"b3","b":"a","x":3,"y":-1.51},{"p":"b3","b":"a","x":3.5,"y":-1.0},{"p":"b3","b":"a","x":4,"y":-0.45},
{"p":"b3","b":"b","x":0,"y":-0.3},{"p":"b3","b":"b","x":0.3,"y":-0.6},{"p":"b3","b":"b","x":0.6,"y":-1.0},{"p":"b3","b":"b","x":1,"y":-1.2},{"p":"b3","b":"b","x":1.4,"y":-1.0},{"p":"b3","b":"b","x":1.7,"y":-0.85},{"p":"b3","b":"b","x":2,"y":-1.0},{"p":"b3","b":"b","x":2.5,"y":-1.4},{"p":"b3","b":"b","x":3,"y":-1.7},{"p":"b3","b":"b","x":3.5,"y":-1.3},{"p":"b3","b":"b","x":4,"y":-0.8},
{"p":"b3","b":"c","x":0,"y":-1.0},{"p":"b3","b":"c","x":0.4,"y":-1.3},{"p":"b3","b":"c","x":0.8,"y":-1.8},{"p":"b3","b":"c","x":1,"y":-2.0},{"p":"b3","b":"c","x":1.4,"y":-1.6},{"p":"b3","b":"c","x":2,"y":-1.3},{"p":"b3","b":"c","x":2.5,"y":-2.0},{"p":"b3","b":"c","x":3,"y":-2.4},{"p":"b3","b":"c","x":3.5,"y":-2.1},{"p":"b3","b":"c","x":4,"y":-1.6},
{"p":"b3","b":"d","x":0,"y":-1.8},{"p":"b3","b":"d","x":0.5,"y":-1.6},{"p":"b3","b":"d","x":1,"y":-2.4},{"p":"b3","b":"d","x":1.5,"y":-2.8},{"p":"b3","b":"d","x":2,"y":-2.2},{"p":"b3","b":"d","x":2.5,"y":-2.7},{"p":"b3","b":"d","x":3,"y":-3.0},{"p":"b3","b":"d","x":3.5,"y":-2.8},{"p":"b3","b":"d","x":4,"y":-2.4},
{"p":"b3","b":"e","x":0,"y":-2.4},{"p":"b3","b":"e","x":0.5,"y":-2.8},{"p":"b3","b":"e","x":1,"y":-3.0},{"p":"b3","b":"e","x":1.5,"y":-2.5},{"p":"b3","b":"e","x":2,"y":-2.9},{"p":"b3","b":"e","x":2.5,"y":-3.4},{"p":"b3","b":"e","x":3,"y":-3.6},
{"p":"b3","b":"f","x":0,"y":-3.0},{"p":"b3","b":"f","x":0.5,"y":-3.4},{"p":"b3","b":"f","x":1,"y":-3.5},{"p":"b3","b":"f","x":1.5,"y":-3.2},{"p":"b3","b":"f","x":2,"y":-3.5},{"p":"b3","b":"f","x":2.3,"y":-3.6},
{"p":"b3","b":"g","x":0,"y":-3.4},{"p":"b3","b":"g","x":0.4,"y":-3.0},{"p":"b3","b":"g","x":0.8,"y":-2.6},{"p":"b3","b":"g","x":1,"y":-2.7},{"p":"b3","b":"g","x":1.4,"y":-3.3},{"p":"b3","b":"g","x":1.7,"y":-3.6},
{"p":"b3","b":"h","x":0,"y":3.0},{"p":"b3","b":"h","x":0.3,"y":2.6},{"p":"b3","b":"h","x":0.6,"y":2.2},{"p":"b3","b":"h","x":0.85,"y":1.95},{"p":"b3","b":"h","x":1,"y":1.9},{"p":"b3","b":"h","x":1.2,"y":2.0},{"p":"b3","b":"h","x":1.5,"y":2.4},{"p":"b3","b":"h","x":1.8,"y":2.25},{"p":"b3","b":"h","x":2,"y":2.17},{"p":"b3","b":"h","x":2.3,"y":2.6},{"p":"b3","b":"h","x":2.7,"y":3.5},{"p":"b3","b":"h","x":3,"y":3.93},{"p":"b3","b":"h","x":3.3,"y":3.7},{"p":"b3","b":"h","x":3.7,"y":3.1},{"p":"b3","b":"h","x":4,"y":2.8},
{"p":"b3","b":"i","x":0,"y":2.4},{"p":"b3","b":"i","x":0.3,"y":2.8},{"p":"b3","b":"i","x":0.6,"y":3.1},{"p":"b3","b":"i","x":1,"y":3.3},{"p":"b3","b":"i","x":1.3,"y":3.0},{"p":"b3","b":"i","x":1.6,"y":2.5},{"p":"b3","b":"i","x":2,"y":2.17},{"p":"b3","b":"i","x":2.3,"y":2.5},{"p":"b3","b":"i","x":2.7,"y":3.3},{"p":"b3","b":"i","x":3,"y":3.6},{"p":"b3","b":"i","x":3.4,"y":3.4},{"p":"b3","b":"i","x":4,"y":3.1},
{"p":"b3","b":"j","x":0,"y":3.6},{"p":"b3","b":"j","x":0.4,"y":3.3},{"p":"b3","b":"j","x":0.8,"y":3.7},{"p":"b3","b":"j","x":1,"y":4.0},{"p":"b3","b":"j","x":1.3,"y":4.3},{"p":"b3","b":"j","x":1.6,"y":3.9},{"p":"b3","b":"j","x":2,"y":3.2},{"p":"b3","b":"j","x":2.4,"y":3.9},{"p":"b3","b":"j","x":2.8,"y":4.6},{"p":"b3","b":"j","x":3,"y":4.8},{"p":"b3","b":"j","x":3.4,"y":4.5},{"p":"b3","b":"j","x":4,"y":4.0},
{"p":"b3","b":"k","x":0,"y":4.3},{"p":"b3","b":"k","x":0.4,"y":4.6},{"p":"b3","b":"k","x":0.8,"y":4.2},{"p":"b3","b":"k","x":1,"y":4.2},{"p":"b3","b":"k","x":1.3,"y":4.6},{"p":"b3","b":"k","x":1.6,"y":5.1},
{"p":"b3","b":"l","x":0,"y":4.9},{"p":"b3","b":"l","x":0.3,"y":4.3},{"p":"b3","b":"l","x":0.6,"y":3.9},{"p":"b3","b":"l","x":1,"y":3.7},{"p":"b3","b":"l","x":1.4,"y":3.8},{"p":"b3","b":"l","x":1.8,"y":4.4},{"p":"b3","b":"l","x":2.1,"y":5.1},
{"p":"b3","b":"m","x":2.6,"y":5.1},{"p":"b3","b":"m","x":2.9,"y":4.4},{"p":"b3","b":"m","x":3,"y":4.3},{"p":"b3","b":"m","x":3.3,"y":4.6},{"p":"b3","b":"m","x":3.7,"y":5.0},{"p":"b3","b":"m","x":4,"y":4.8},

{"p":"b4","b":"a","x":0,"y":-0.5},{"p":"b4","b":"a","x":0.3,"y":-0.17},{"p":"b4","b":"a","x":0.7,"y":-0.6},{"p":"b4","b":"a","x":1,"y":-0.9},{"p":"b4","b":"a","x":1.4,"y":-0.6},{"p":"b4","b":"a","x":1.7,"y":-0.45},{"p":"b4","b":"a","x":2,"y":-0.6},{"p":"b4","b":"a","x":2.5,"y":-1.0},{"p":"b4","b":"a","x":3,"y":-1.2},{"p":"b4","b":"a","x":3.5,"y":-0.7},{"p":"b4","b":"a","x":4,"y":-0.3},
{"p":"b4","b":"b","x":0,"y":-0.3},{"p":"b4","b":"b","x":0.4,"y":-0.6},{"p":"b4","b":"b","x":0.8,"y":-0.4},{"p":"b4","b":"b","x":1.05,"y":-0.33},{"p":"b4","b":"b","x":1.4,"y":-0.8},{"p":"b4","b":"b","x":1.7,"y":-1.2},{"p":"b4","b":"b","x":2,"y":-1.3},{"p":"b4","b":"b","x":2.5,"y":-1.5},{"p":"b4","b":"b","x":3,"y":-1.7},{"p":"b4","b":"b","x":3.5,"y":-1.3},{"p":"b4","b":"b","x":4,"y":-0.6},
{"p":"b4","b":"c","x":0,"y":-1.1},{"p":"b4","b":"c","x":0.4,"y":-0.9},{"p":"b4","b":"c","x":0.8,"y":-1.4},{"p":"b4","b":"c","x":1,"y":-1.7},{"p":"b4","b":"c","x":1.4,"y":-1.3},{"p":"b4","b":"c","x":2,"y":-1.0},{"p":"b4","b":"c","x":2.5,"y":-1.9},{"p":"b4","b":"c","x":3,"y":-2.3},{"p":"b4","b":"c","x":3.5,"y":-1.9},{"p":"b4","b":"c","x":4,"y":-1.3},
{"p":"b4","b":"d","x":0,"y":-1.7},{"p":"b4","b":"d","x":0.5,"y":-2.1},{"p":"b4","b":"d","x":1,"y":-2.5},{"p":"b4","b":"d","x":1.5,"y":-2.0},{"p":"b4","b":"d","x":2,"y":-2.3},{"p":"b4","b":"d","x":2.5,"y":-2.8},{"p":"b4","b":"d","x":3,"y":-2.9},{"p":"b4","b":"d","x":3.5,"y":-2.6},{"p":"b4","b":"d","x":4,"y":-2.1},
{"p":"b4","b":"e","x":0,"y":-2.3},{"p":"b4","b":"e","x":0.5,"y":-2.5},{"p":"b4","b":"e","x":1,"y":-2.0},{"p":"b4","b":"e","x":1.5,"y":-2.7},{"p":"b4","b":"e","x":2,"y":-3.1},{"p":"b4","b":"e","x":2.5,"y":-3.3},{"p":"b4","b":"e","x":3,"y":-3.5},{"p":"b4","b":"e","x":3.3,"y":-3.6},
{"p":"b4","b":"f","x":0,"y":-2.9},{"p":"b4","b":"f","x":0.5,"y":-3.2},{"p":"b4","b":"f","x":1,"y":-3.4},{"p":"b4","b":"f","x":1.5,"y":-3.0},{"p":"b4","b":"f","x":2,"y":-2.7},{"p":"b4","b":"f","x":2.5,"y":-3.2},{"p":"b4","b":"f","x":3,"y":-3.6},
{"p":"b4","b":"g","x":0,"y":-3.3},{"p":"b4","b":"g","x":0.5,"y":-2.9},{"p":"b4","b":"g","x":1,"y":-3.0},{"p":"b4","b":"g","x":1.5,"y":-3.5},{"p":"b4","b":"g","x":1.7,"y":-3.6},
{"p":"b4","b":"h","x":0,"y":2.3},{"p":"b4","b":"h","x":0.3,"y":1.7},{"p":"b4","b":"h","x":0.6,"y":1.3},{"p":"b4","b":"h","x":0.83,"y":1.17},{"p":"b4","b":"h","x":1,"y":1.2},{"p":"b4","b":"h","x":1.3,"y":1.35},{"p":"b4","b":"h","x":1.6,"y":1.55},{"p":"b4","b":"h","x":2,"y":1.67},{"p":"b4","b":"h","x":2.4,"y":2.3},{"p":"b4","b":"h","x":2.8,"y":3.2},{"p":"b4","b":"h","x":3,"y":3.42},{"p":"b4","b":"h","x":3.3,"y":3.2},{"p":"b4","b":"h","x":3.7,"y":2.6},{"p":"b4","b":"h","x":4,"y":2.2},
{"p":"b4","b":"i","x":0,"y":1.9},{"p":"b4","b":"i","x":0.3,"y":2.3},{"p":"b4","b":"i","x":0.7,"y":2.7},{"p":"b4","b":"i","x":1,"y":2.8},{"p":"b4","b":"i","x":1.4,"y":2.3},{"p":"b4","b":"i","x":1.7,"y":1.9},{"p":"b4","b":"i","x":2,"y":1.67},{"p":"b4","b":"i","x":2.3,"y":2.2},{"p":"b4","b":"i","x":2.7,"y":3.0},{"p":"b4","b":"i","x":3,"y":3.2},{"p":"b4","b":"i","x":3.4,"y":3.0},{"p":"b4","b":"i","x":4,"y":2.6},
{"p":"b4","b":"j","x":0,"y":3.0},{"p":"b4","b":"j","x":0.4,"y":2.6},{"p":"b4","b":"j","x":0.8,"y":3.0},{"p":"b4","b":"j","x":1,"y":3.4},{"p":"b4","b":"j","x":1.4,"y":3.8},{"p":"b4","b":"j","x":1.7,"y":3.3},{"p":"b4","b":"j","x":2,"y":2.9},{"p":"b4","b":"j","x":2.4,"y":3.6},{"p":"b4","b":"j","x":2.8,"y":4.3},{"p":"b4","b":"j","x":3,"y":4.5},{"p":"b4","b":"j","x":3.4,"y":4.2},{"p":"b4","b":"j","x":4,"y":3.6},
{"p":"b4","b":"k","x":0,"y":3.7},{"p":"b4","b":"k","x":0.4,"y":4.1},{"p":"b4","b":"k","x":0.8,"y":3.8},{"p":"b4","b":"k","x":1,"y":3.6},{"p":"b4","b":"k","x":1.3,"y":3.9},{"p":"b4","b":"k","x":1.7,"y":4.5},{"p":"b4","b":"k","x":2,"y":4.3},{"p":"b4","b":"k","x":2.3,"y":4.9},{"p":"b4","b":"k","x":2.5,"y":5.1},
{"p":"b4","b":"l","x":0,"y":4.4},{"p":"b4","b":"l","x":0.4,"y":4.9},{"p":"b4","b":"l","x":0.8,"y":4.6},{"p":"b4","b":"l","x":1,"y":4.5},{"p":"b4","b":"l","x":1.3,"y":4.8},{"p":"b4","b":"l","x":1.5,"y":5.1},
{"p":"b4","b":"m","x":2.6,"y":5.1},{"p":"b4","b":"m","x":2.9,"y":4.6},{"p":"b4","b":"m","x":3,"y":4.5},{"p":"b4","b":"m","x":3.4,"y":4.9},{"p":"b4","b":"m","x":3.8,"y":4.6},{"p":"b4","b":"m","x":4,"y":4.4}
]},
"bounds":"flush",
"columns":4,
"spacing":{"row":51,"column":10},
"concat":[
{"width":137,"height":229,"resolve":{"axis":{"y":"independent"}},"layer":[
{"data":{"name":"gaps"},"transform":[{"filter":"datum.p=='m1'"}],"mark":{"type":"rect","color":"#b5bfe6"},"encoding":{"x":{"datum":0,"type":"quantitative","scale":{"domain":[0,4],"nice":false,"zero":false},"axis":null},"x2":{"datum":4},"y":{"field":"vbm","type":"quantitative","scale":{"domain":[-3.55,5],"nice":false,"zero":false},"axis":{"orient":"right","values":[-3,-2.25,-1.5,-0.75,0,0.75,1.5,2.25,3,3.75,4.5],"labels":false,"title":null,"tickSize":-5,"tickColor":"#222","domain":false,"grid":false}},"y2":{"field":"cbm"}}},
{"data":{"name":"sym"},"mark":{"type":"rule","color":"#4b55d0","strokeDash":[4,3],"strokeWidth":1},"encoding":{"x":{"field":"k","type":"quantitative","scale":{"domain":[0,4],"nice":false,"zero":false},"axis":null}}},
{"data":{"name":"bands"},"transform":[{"filter":"datum.p=='m1'"}],"mark":{"type":"line","color":"#141414","strokeWidth":1.4,"interpolate":"monotone","clip":true},"encoding":{"x":{"field":"x","type":"quantitative","scale":{"domain":[0,4],"nice":false,"zero":false},"axis":null},"y":{"field":"y","type":"quantitative","scale":{"domain":[-3.55,5],"nice":false,"zero":false},"axis":{"orient":"left","values":[-3,-2.25,-1.5,-0.75,0,0.75,1.5,2.25,3,3.75,4.5],"labelExpr":"abs(datum.value/1.5-round(datum.value/1.5))<0.01 ? (datum.value<0?'-':'')+format(abs(datum.value),'.1f') : ''","labelOverlap":false,"title":"E - Eᵥ (eV)","titleFont":"Liberation Serif","titleFontSize":25,"titleFontWeight":"bold","titleColor":"#111","titlePadding":11,"labelFont":"Liberation Serif","labelFontSize":17,"labelColor":"#111","labelPadding":7,"tickSize":-5,"tickColor":"#222","domain":false,"grid":false}},"detail":{"field":"b"}}},
{"data":{"name":"kp"},"mark":{"type":"text","baseline":"top","dy":3,"align":{"expr":"datum.k==0 ? 'left' : datum.k==4 ? 'right' : 'center'"},"dx":{"expr":"datum.k==0 ? -3 : datum.k==4 ? 3 : 0"},"font":"Liberation Serif","fontSize":16,"color":"#111","clip":false},"encoding":{"x":{"field":"k","type":"quantitative","scale":{"domain":[0,4],"nice":false,"zero":false},"axis":null},"y":{"datum":-3.55,"type":"quantitative","scale":{"domain":[-3.55,5],"nice":false,"zero":false},"axis":null},"text":{"field":"n"}}},
{"data":{"name":"arrows"},"transform":[{"filter":"datum.p=='m1'"}],"mark":{"type":"rule","color":"#333","strokeDash":[2,2],"strokeWidth":1.2},"encoding":{"x":{"field":"x","type":"quantitative","scale":{"domain":[0,4],"nice":false,"zero":false},"axis":null},"y":{"field":"y1","type":"quantitative","scale":{"domain":[-3.55,5],"nice":false,"zero":false},"axis":null},"y2":{"field":"y2"}}},
{"data":{"name":"arrows"},"transform":[{"filter":"datum.p=='m1'"}],"mark":{"type":"point","shape":"triangle-up","filled":true,"size":30,"color":"#333","opacity":1},"encoding":{"x":{"field":"x","type":"quantitative","scale":{"domain":[0,4],"nice":false,"zero":false},"axis":null},"y":{"field":"y2","type":"quantitative","scale":{"domain":[-3.55,5],"nice":false,"zero":false},"axis":null}}},
{"data":{"name":"arrows"},"transform":[{"filter":"datum.p=='m1'"}],"mark":{"type":"text","align":"left","baseline":"middle","dx":6,"font":"Liberation Serif","fontSize":17,"color":"#222"},"encoding":{"x":{"field":"x","type":"quantitative","scale":{"domain":[0,4],"nice":false,"zero":false},"axis":null},"y":{"field":"ly","type":"quantitative","scale":{"domain":[-3.55,5],"nice":false,"zero":false},"axis":null},"text":{"field":"n"}}},
{"data":{"name":"dots"},"transform":[{"filter":"datum.p=='m1'"}],"mark":{"type":"circle","size":55,"opacity":1},"encoding":{"x":{"field":"x","type":"quantitative","scale":{"domain":[0,4],"nice":false,"zero":false},"axis":null},"y":{"field":"y","type":"quantitative","scale":{"domain":[-3.55,5],"nice":false,"zero":false},"axis":null},"color":{"field":"t","type":"nominal","scale":{"domain":["CBM","VBM"],"range":["#e3201b","#2e9a2e"]},"legend":null}}},
{"data":{"name":"gaps"},"transform":[{"filter":"datum.p=='m1'"}],"mark":{"type":"rect","color":"#d5d5d5"},"encoding":{"x":{"datum":2.2,"type":"quantitative","scale":{"domain":[0,4],"nice":false,"zero":false},"axis":null},"x2":{"datum":3.87},"y":{"datum":-2.45,"type":"quantitative","scale":{"domain":[-3.55,5],"nice":false,"zero":false},"axis":null},"y2":{"datum":-3.4}}},
{"data":{"name":"gaps"},"transform":[{"filter":"datum.p=='m1'"}],"mark":{"type":"text","align":"right","baseline":"middle","font":"Liberation Serif","fontSize":17,"fontWeight":"bold","fontStyle":"italic","color":"#1a1a1a"},"encoding":{"x":{"datum":3.78,"type":"quantitative","scale":{"domain":[0,4],"nice":false,"zero":false},"axis":null},"y":{"datum":-2.93,"type":"quantitative","scale":{"domain":[-3.55,5],"nice":false,"zero":false},"axis":null},"text":{"field":"m"}}},
{"data":{"name":"heads"},"transform":[{"filter":"datum.r=='Monolayer'"}],"mark":{"type":"rect","clip":false,"color":{"gradient":"linear","stops":[{"offset":0,"color":"#000000"},{"offset":0.5,"color":"#777777"},{"offset":1,"color":"#f2f2f2"}]}},"encoding":{"x":{"datum":0.06,"type":"quantitative","scale":{"domain":[0,4],"nice":false,"zero":false},"axis":null},"x2":{"datum":13.1},"y":{"datum":5.52,"type":"quantitative","scale":{"domain":[-3.55,5],"nice":false,"zero":false},"axis":null},"y2":{"datum":5.63}}},
{"data":{"name":"gaps"},"transform":[{"filter":"datum.p=='m1'"}],"mark":{"type":"rect","filled":false,"color":"#e8141c","strokeWidth":4.5,"clip":false},"encoding":{"x":{"datum":-0.22,"type":"quantitative","scale":{"domain":[0,4],"nice":false,"zero":false},"axis":null},"x2":{"datum":4.1},"y":{"datum":-4.35,"type":"quantitative","scale":{"domain":[-3.55,5],"nice":false,"zero":false},"axis":null},"y2":{"datum":5.2}}}
]},
{"width":137,"height":229,"resolve":{"axis":{"y":"independent"}},"layer":[
{"data":{"name":"gaps"},"transform":[{"filter":"datum.p=='m2'"}],"mark":{"type":"rect","color":"#b5bfe6"},"encoding":{"x":{"datum":0,"type":"quantitative","scale":{"domain":[0,4],"nice":false,"zero":false},"axis":null},"x2":{"datum":4},"y":{"field":"vbm","type":"quantitative","scale":{"domain":[-3.55,5],"nice":false,"zero":false},"axis":{"orient":"right","values":[-3,-2.25,-1.5,-0.75,0,0.75,1.5,2.25,3,3.75,4.5],"labels":false,"title":null,"tickSize":-5,"tickColor":"#222","domain":false,"grid":false}},"y2":{"field":"cbm"}}},
{"data":{"name":"sym"},"mark":{"type":"rule","color":"#4b55d0","strokeDash":[4,3],"strokeWidth":1},"encoding":{"x":{"field":"k","type":"quantitative","scale":{"domain":[0,4],"nice":false,"zero":false},"axis":null}}},
{"data":{"name":"bands"},"transform":[{"filter":"datum.p=='m2'"}],"mark":{"type":"line","color":"#141414","strokeWidth":1.4,"interpolate":"monotone","clip":true},"encoding":{"x":{"field":"x","type":"quantitative","scale":{"domain":[0,4],"nice":false,"zero":false},"axis":null},"y":{"field":"y","type":"quantitative","scale":{"domain":[-3.55,5],"nice":false,"zero":false},"axis":{"orient":"left","values":[-3,-2.25,-1.5,-0.75,0,0.75,1.5,2.25,3,3.75,4.5],"labels":false,"title":null,"tickSize":-5,"tickColor":"#222","domain":false,"grid":false}},"detail":{"field":"b"}}},
{"data":{"name":"kp"},"mark":{"type":"text","baseline":"top","dy":3,"align":{"expr":"datum.k==0 ? 'left' : datum.k==4 ? 'right' : 'center'"},"dx":{"expr":"datum.k==0 ? -3 : datum.k==4 ? 3 : 0"},"font":"Liberation Serif","fontSize":16,"color":"#111","clip":false},"encoding":{"x":{"field":"k","type":"quantitative","scale":{"domain":[0,4],"nice":false,"zero":false},"axis":null},"y":{"datum":-3.55,"type":"quantitative","scale":{"domain":[-3.55,5],"nice":false,"zero":false},"axis":null},"text":{"field":"n"}}},
{"data":{"name":"dots"},"transform":[{"filter":"datum.p=='m2'"}],"mark":{"type":"circle","size":55,"opacity":1},"encoding":{"x":{"field":"x","type":"quantitative","scale":{"domain":[0,4],"nice":false,"zero":false},"axis":null},"y":{"field":"y","type":"quantitative","scale":{"domain":[-3.55,5],"nice":false,"zero":false},"axis":null},"color":{"field":"t","type":"nominal","scale":{"domain":["CBM","VBM"],"range":["#e3201b","#2e9a2e"]},"legend":null}}},
{"data":{"name":"gaps"},"transform":[{"filter":"datum.p=='m2'"}],"mark":{"type":"rect","color":"#d5d5d5"},"encoding":{"x":{"datum":2.0,"type":"quantitative","scale":{"domain":[0,4],"nice":false,"zero":false},"axis":null},"x2":{"datum":3.92},"y":{"datum":-2.45,"type":"quantitative","scale":{"domain":[-3.55,5],"nice":false,"zero":false},"axis":null},"y2":{"datum":-3.4}}},
{"data":{"name":"gaps"},"transform":[{"filter":"datum.p=='m2'"}],"mark":{"type":"text","align":"right","baseline":"middle","font":"Liberation Serif","fontSize":17,"fontWeight":"bold","fontStyle":"italic","color":"#1a1a1a"},"encoding":{"x":{"datum":3.83,"type":"quantitative","scale":{"domain":[0,4],"nice":false,"zero":false},"axis":null},"y":{"datum":-2.93,"type":"quantitative","scale":{"domain":[-3.55,5],"nice":false,"zero":false},"axis":null},"text":{"field":"m"}}},
{"data":{"name":"gaps"},"transform":[{"filter":"datum.p=='m2'"}],"mark":{"type":"rect","filled":false,"color":"#e8141c","strokeWidth":4.5,"clip":false},"encoding":{"x":{"datum":-0.17,"type":"quantitative","scale":{"domain":[0,4],"nice":false,"zero":false},"axis":null},"x2":{"datum":4.1},"y":{"datum":-4.35,"type":"quantitative","scale":{"domain":[-3.55,5],"nice":false,"zero":false},"axis":null},"y2":{"datum":5.2}}}
]},
{"width":137,"height":229,"resolve":{"axis":{"y":"independent"}},"layer":[
{"data":{"name":"gaps"},"transform":[{"filter":"datum.p=='m3'"}],"mark":{"type":"rect","color":"#b5bfe6"},"encoding":{"x":{"datum":0,"type":"quantitative","scale":{"domain":[0,4],"nice":false,"zero":false},"axis":null},"x2":{"datum":4},"y":{"field":"vbm","type":"quantitative","scale":{"domain":[-3.55,5],"nice":false,"zero":false},"axis":{"orient":"right","values":[-3,-2.25,-1.5,-0.75,0,0.75,1.5,2.25,3,3.75,4.5],"labels":false,"title":null,"tickSize":-5,"tickColor":"#222","domain":false,"grid":false}},"y2":{"field":"cbm"}}},
{"data":{"name":"sym"},"mark":{"type":"rule","color":"#4b55d0","strokeDash":[4,3],"strokeWidth":1},"encoding":{"x":{"field":"k","type":"quantitative","scale":{"domain":[0,4],"nice":false,"zero":false},"axis":null}}},
{"data":{"name":"bands"},"transform":[{"filter":"datum.p=='m3'"}],"mark":{"type":"line","color":"#141414","strokeWidth":1.4,"interpolate":"monotone","clip":true},"encoding":{"x":{"field":"x","type":"quantitative","scale":{"domain":[0,4],"nice":false,"zero":false},"axis":null},"y":{"field":"y","type":"quantitative","scale":{"domain":[-3.55,5],"nice":false,"zero":false},"axis":{"orient":"left","values":[-3,-2.25,-1.5,-0.75,0,0.75,1.5,2.25,3,3.75,4.5],"labels":false,"title":null,"tickSize":-5,"tickColor":"#222","domain":false,"grid":false}},"detail":{"field":"b"}}},
{"data":{"name":"kp"},"mark":{"type":"text","baseline":"top","dy":3,"align":{"expr":"datum.k==0 ? 'left' : datum.k==4 ? 'right' : 'center'"},"dx":{"expr":"datum.k==0 ? -3 : datum.k==4 ? 3 : 0"},"font":"Liberation Serif","fontSize":16,"color":"#111","clip":false},"encoding":{"x":{"field":"k","type":"quantitative","scale":{"domain":[0,4],"nice":false,"zero":false},"axis":null},"y":{"datum":-3.55,"type":"quantitative","scale":{"domain":[-3.55,5],"nice":false,"zero":false},"axis":null},"text":{"field":"n"}}},
{"data":{"name":"dots"},"transform":[{"filter":"datum.p=='m3'"}],"mark":{"type":"circle","size":55,"opacity":1},"encoding":{"x":{"field":"x","type":"quantitative","scale":{"domain":[0,4],"nice":false,"zero":false},"axis":null},"y":{"field":"y","type":"quantitative","scale":{"domain":[-3.55,5],"nice":false,"zero":false},"axis":null},"color":{"field":"t","type":"nominal","scale":{"domain":["CBM","VBM"],"range":["#e3201b","#2e9a2e"]},"legend":null}}},
{"data":{"name":"gaps"},"transform":[{"filter":"datum.p=='m3'"}],"mark":{"type":"rect","color":"#d5d5d5"},"encoding":{"x":{"datum":2.2,"type":"quantitative","scale":{"domain":[0,4],"nice":false,"zero":false},"axis":null},"x2":{"datum":3.95},"y":{"datum":-2.45,"type":"quantitative","scale":{"domain":[-3.55,5],"nice":false,"zero":false},"axis":null},"y2":{"datum":-3.4}}},
{"data":{"name":"gaps"},"transform":[{"filter":"datum.p=='m3'"}],"mark":{"type":"text","align":"right","baseline":"middle","font":"Liberation Serif","fontSize":17,"fontWeight":"bold","fontStyle":"italic","color":"#1a1a1a"},"encoding":{"x":{"datum":3.86,"type":"quantitative","scale":{"domain":[0,4],"nice":false,"zero":false},"axis":null},"y":{"datum":-2.93,"type":"quantitative","scale":{"domain":[-3.55,5],"nice":false,"zero":false},"axis":null},"text":{"field":"m"}}},
{"data":{"name":"gaps"},"transform":[{"filter":"datum.p=='m3'"}],"mark":{"type":"rect","filled":false,"color":"#000000","strokeWidth":4.5,"clip":false},"encoding":{"x":{"datum":-0.17,"type":"quantitative","scale":{"domain":[0,4],"nice":false,"zero":false},"axis":null},"x2":{"datum":4.1},"y":{"datum":-4.35,"type":"quantitative","scale":{"domain":[-3.55,5],"nice":false,"zero":false},"axis":null},"y2":{"datum":5.2}}}
]},
{"width":137,"height":229,"resolve":{"axis":{"y":"independent"}},"layer":[
{"data":{"name":"gaps"},"transform":[{"filter":"datum.p=='m4'"}],"mark":{"type":"rect","color":"#b5bfe6"},"encoding":{"x":{"datum":0,"type":"quantitative","scale":{"domain":[0,4],"nice":false,"zero":false},"axis":null},"x2":{"datum":4},"y":{"field":"vbm","type":"quantitative","scale":{"domain":[-3.55,5],"nice":false,"zero":false},"axis":{"orient":"right","values":[-3,-2.25,-1.5,-0.75,0,0.75,1.5,2.25,3,3.75,4.5],"labels":false,"title":null,"tickSize":-5,"tickColor":"#222","domain":false,"grid":false}},"y2":{"field":"cbm"}}},
{"data":{"name":"sym"},"mark":{"type":"rule","color":"#4b55d0","strokeDash":[4,3],"strokeWidth":1},"encoding":{"x":{"field":"k","type":"quantitative","scale":{"domain":[0,4],"nice":false,"zero":false},"axis":null}}},
{"data":{"name":"bands"},"transform":[{"filter":"datum.p=='m4'"}],"mark":{"type":"line","color":"#141414","strokeWidth":1.4,"interpolate":"monotone","clip":true},"encoding":{"x":{"field":"x","type":"quantitative","scale":{"domain":[0,4],"nice":false,"zero":false},"axis":null},"y":{"field":"y","type":"quantitative","scale":{"domain":[-3.55,5],"nice":false,"zero":false},"axis":{"orient":"left","values":[-3,-2.25,-1.5,-0.75,0,0.75,1.5,2.25,3,3.75,4.5],"labels":false,"title":null,"tickSize":-5,"tickColor":"#222","domain":false,"grid":false}},"detail":{"field":"b"}}},
{"data":{"name":"kp"},"mark":{"type":"text","baseline":"top","dy":3,"align":{"expr":"datum.k==0 ? 'left' : datum.k==4 ? 'right' : 'center'"},"dx":{"expr":"datum.k==0 ? -3 : datum.k==4 ? 3 : 0"},"font":"Liberation Serif","fontSize":16,"color":"#111","clip":false},"encoding":{"x":{"field":"k","type":"quantitative","scale":{"domain":[0,4],"nice":false,"zero":false},"axis":null},"y":{"datum":-3.55,"type":"quantitative","scale":{"domain":[-3.55,5],"nice":false,"zero":false},"axis":null},"text":{"field":"n"}}},
{"data":{"name":"dots"},"transform":[{"filter":"datum.p=='m4'"}],"mark":{"type":"circle","size":55,"opacity":1},"encoding":{"x":{"field":"x","type":"quantitative","scale":{"domain":[0,4],"nice":false,"zero":false},"axis":null},"y":{"field":"y","type":"quantitative","scale":{"domain":[-3.55,5],"nice":false,"zero":false},"axis":null},"color":{"field":"t","type":"nominal","scale":{"domain":["CBM","VBM"],"range":["#e3201b","#2e9a2e"]},"legend":null}}},
{"data":{"name":"gaps"},"transform":[{"filter":"datum.p=='m4'"}],"mark":{"type":"rect","color":"#d5d5d5"},"encoding":{"x":{"datum":1.95,"type":"quantitative","scale":{"domain":[0,4],"nice":false,"zero":false},"axis":null},"x2":{"datum":3.97},"y":{"datum":-2.45,"type":"quantitative","scale":{"domain":[-3.55,5],"nice":false,"zero":false},"axis":null},"y2":{"datum":-3.4}}},
{"data":{"name":"gaps"},"transform":[{"filter":"datum.p=='m4'"}],"mark":{"type":"text","align":"right","baseline":"middle","font":"Liberation Serif","fontSize":17,"fontWeight":"bold","fontStyle":"italic","color":"#1a1a1a"},"encoding":{"x":{"datum":3.86,"type":"quantitative","scale":{"domain":[0,4],"nice":false,"zero":false},"axis":null},"y":{"datum":-2.93,"type":"quantitative","scale":{"domain":[-3.55,5],"nice":false,"zero":false},"axis":null},"text":{"field":"m"}}},
{"data":{"name":"heads"},"transform":[{"filter":"datum.r=='Monolayer'"}],"mark":{"type":"text","align":"right","baseline":"alphabetic","font":"Liberation Serif","fontSize":24,"fontWeight":"bold","color":"#1a1a1a"},"encoding":{"x":{"datum":3.8,"type":"quantitative","scale":{"domain":[0,4],"nice":false,"zero":false},"axis":null},"y":{"datum":5.37,"type":"quantitative","scale":{"domain":[-3.55,5],"nice":false,"zero":false},"axis":null},"text":{"field":"r"}}},
{"data":{"name":"gaps"},"transform":[{"filter":"datum.p=='m4'"}],"mark":{"type":"rect","filled":false,"color":"#e8141c","strokeWidth":4.5,"clip":false},"encoding":{"x":{"datum":-0.17,"type":"quantitative","scale":{"domain":[0,4],"nice":false,"zero":false},"axis":null},"x2":{"datum":4.1},"y":{"datum":-4.35,"type":"quantitative","scale":{"domain":[-3.55,5],"nice":false,"zero":false},"axis":null},"y2":{"datum":5.2}}}
]},
{"width":137,"height":229,"resolve":{"axis":{"y":"independent"}},"layer":[
{"data":{"name":"gaps"},"transform":[{"filter":"datum.p=='b1'"}],"mark":{"type":"rect","color":"#b5bfe6"},"encoding":{"x":{"datum":0,"type":"quantitative","scale":{"domain":[0,4],"nice":false,"zero":false},"axis":null},"x2":{"datum":4},"y":{"field":"vbm","type":"quantitative","scale":{"domain":[-3.55,5],"nice":false,"zero":false},"axis":{"orient":"right","values":[-3,-2.25,-1.5,-0.75,0,0.75,1.5,2.25,3,3.75,4.5],"labels":false,"title":null,"tickSize":-5,"tickColor":"#222","domain":false,"grid":false}},"y2":{"field":"cbm"}}},
{"data":{"name":"sym"},"mark":{"type":"rule","color":"#4b55d0","strokeDash":[4,3],"strokeWidth":1},"encoding":{"x":{"field":"k","type":"quantitative","scale":{"domain":[0,4],"nice":false,"zero":false},"axis":null}}},
{"data":{"name":"bands"},"transform":[{"filter":"datum.p=='b1'"}],"mark":{"type":"line","color":"#141414","strokeWidth":1.4,"interpolate":"monotone","clip":true},"encoding":{"x":{"field":"x","type":"quantitative","scale":{"domain":[0,4],"nice":false,"zero":false},"axis":null},"y":{"field":"y","type":"quantitative","scale":{"domain":[-3.55,5],"nice":false,"zero":false},"axis":{"orient":"left","values":[-3,-2.25,-1.5,-0.75,0,0.75,1.5,2.25,3,3.75,4.5],"labelExpr":"abs(datum.value/1.5-round(datum.value/1.5))<0.01 ? (datum.value<0?'-':'')+format(abs(datum.value),'.1f') : ''","labelOverlap":false,"title":"E - Eᵥ (eV)","titleFont":"Liberation Serif","titleFontSize":25,"titleFontWeight":"bold","titleColor":"#111","titlePadding":11,"labelFont":"Liberation Serif","labelFontSize":17,"labelColor":"#111","labelPadding":7,"tickSize":-5,"tickColor":"#222","domain":false,"grid":false}},"detail":{"field":"b"}}},
{"data":{"name":"kp"},"mark":{"type":"text","baseline":"top","dy":3,"align":{"expr":"datum.k==0 ? 'left' : datum.k==4 ? 'right' : 'center'"},"dx":{"expr":"datum.k==0 ? -3 : datum.k==4 ? 3 : 0"},"font":"Liberation Serif","fontSize":16,"color":"#111","clip":false},"encoding":{"x":{"field":"k","type":"quantitative","scale":{"domain":[0,4],"nice":false,"zero":false},"axis":null},"y":{"datum":-3.55,"type":"quantitative","scale":{"domain":[-3.55,5],"nice":false,"zero":false},"axis":null},"text":{"field":"n"}}},
{"data":{"name":"dots"},"transform":[{"filter":"datum.p=='b1'"}],"mark":{"type":"circle","size":55,"opacity":1},"encoding":{"x":{"field":"x","type":"quantitative","scale":{"domain":[0,4],"nice":false,"zero":false},"axis":null},"y":{"field":"y","type":"quantitative","scale":{"domain":[-3.55,5],"nice":false,"zero":false},"axis":null},"color":{"field":"t","type":"nominal","scale":{"domain":["CBM","VBM"],"range":["#e3201b","#2e9a2e"]},"legend":null}}},
{"data":{"name":"gaps"},"transform":[{"filter":"datum.p=='b1'"}],"mark":{"type":"rect","color":"#d5d5d5"},"encoding":{"x":{"datum":2.2,"type":"quantitative","scale":{"domain":[0,4],"nice":false,"zero":false},"axis":null},"x2":{"datum":3.87},"y":{"datum":-2.45,"type":"quantitative","scale":{"domain":[-3.55,5],"nice":false,"zero":false},"axis":null},"y2":{"datum":-3.4}}},
{"data":{"name":"gaps"},"transform":[{"filter":"datum.p=='b1'"}],"mark":{"type":"text","align":"right","baseline":"middle","font":"Liberation Serif","fontSize":17,"fontWeight":"bold","fontStyle":"italic","color":"#1a1a1a"},"encoding":{"x":{"datum":3.78,"type":"quantitative","scale":{"domain":[0,4],"nice":false,"zero":false},"axis":null},"y":{"datum":-2.93,"type":"quantitative","scale":{"domain":[-3.55,5],"nice":false,"zero":false},"axis":null},"text":{"field":"m"}}},
{"data":{"name":"heads"},"transform":[{"filter":"datum.r=='Bulk'"}],"mark":{"type":"rect","clip":false,"color":{"gradient":"linear","stops":[{"offset":0,"color":"#000000"},{"offset":0.5,"color":"#777777"},{"offset":1,"color":"#f2f2f2"}]}},"encoding":{"x":{"datum":0.06,"type":"quantitative","scale":{"domain":[0,4],"nice":false,"zero":false},"axis":null},"x2":{"datum":14.9},"y":{"datum":5.38,"type":"quantitative","scale":{"domain":[-3.55,5],"nice":false,"zero":false},"axis":null},"y2":{"datum":5.49}}},
{"data":{"name":"gaps"},"transform":[{"filter":"datum.p=='b1'"}],"mark":{"type":"rect","filled":false,"color":"#e8141c","strokeWidth":4.5,"clip":false},"encoding":{"x":{"datum":-0.22,"type":"quantitative","scale":{"domain":[0,4],"nice":false,"zero":false},"axis":null},"x2":{"datum":4.1},"y":{"datum":-4.35,"type":"quantitative","scale":{"domain":[-3.55,5],"nice":false,"zero":false},"axis":null},"y2":{"datum":5.15}}}
]},
{"width":137,"height":229,"resolve":{"axis":{"y":"independent"}},"layer":[
{"data":{"name":"gaps"},"transform":[{"filter":"datum.p=='b2'"}],"mark":{"type":"rect","color":"#b5bfe6"},"encoding":{"x":{"datum":0,"type":"quantitative","scale":{"domain":[0,4],"nice":false,"zero":false},"axis":null},"x2":{"datum":4},"y":{"field":"vbm","type":"quantitative","scale":{"domain":[-3.55,5],"nice":false,"zero":false},"axis":{"orient":"right","values":[-3,-2.25,-1.5,-0.75,0,0.75,1.5,2.25,3,3.75,4.5],"labels":false,"title":null,"tickSize":-5,"tickColor":"#222","domain":false,"grid":false}},"y2":{"field":"cbm"}}},
{"data":{"name":"sym"},"mark":{"type":"rule","color":"#4b55d0","strokeDash":[4,3],"strokeWidth":1},"encoding":{"x":{"field":"k","type":"quantitative","scale":{"domain":[0,4],"nice":false,"zero":false},"axis":null}}},
{"data":{"name":"bands"},"transform":[{"filter":"datum.p=='b2'"}],"mark":{"type":"line","color":"#141414","strokeWidth":1.4,"interpolate":"monotone","clip":true},"encoding":{"x":{"field":"x","type":"quantitative","scale":{"domain":[0,4],"nice":false,"zero":false},"axis":null},"y":{"field":"y","type":"quantitative","scale":{"domain":[-3.55,5],"nice":false,"zero":false},"axis":{"orient":"left","values":[-3,-2.25,-1.5,-0.75,0,0.75,1.5,2.25,3,3.75,4.5],"labels":false,"title":null,"tickSize":-5,"tickColor":"#222","domain":false,"grid":false}},"detail":{"field":"b"}}},
{"data":{"name":"kp"},"mark":{"type":"text","baseline":"top","dy":3,"align":{"expr":"datum.k==0 ? 'left' : datum.k==4 ? 'right' : 'center'"},"dx":{"expr":"datum.k==0 ? -3 : datum.k==4 ? 3 : 0"},"font":"Liberation Serif","fontSize":16,"color":"#111","clip":false},"encoding":{"x":{"field":"k","type":"quantitative","scale":{"domain":[0,4],"nice":false,"zero":false},"axis":null},"y":{"datum":-3.55,"type":"quantitative","scale":{"domain":[-3.55,5],"nice":false,"zero":false},"axis":null},"text":{"field":"n"}}},
{"data":{"name":"dots"},"transform":[{"filter":"datum.p=='b2'"}],"mark":{"type":"circle","size":55,"opacity":1},"encoding":{"x":{"field":"x","type":"quantitative","scale":{"domain":[0,4],"nice":false,"zero":false},"axis":null},"y":{"field":"y","type":"quantitative","scale":{"domain":[-3.55,5],"nice":false,"zero":false},"axis":null},"color":{"field":"t","type":"nominal","scale":{"domain":["CBM","VBM"],"range":["#e3201b","#2e9a2e"]},"legend":null}}},
{"data":{"name":"gaps"},"transform":[{"filter":"datum.p=='b2'"}],"mark":{"type":"rect","color":"#d5d5d5"},"encoding":{"x":{"datum":2.0,"type":"quantitative","scale":{"domain":[0,4],"nice":false,"zero":false},"axis":null},"x2":{"datum":3.92},"y":{"datum":-2.45,"type":"quantitative","scale":{"domain":[-3.55,5],"nice":false,"zero":false},"axis":null},"y2":{"datum":-3.4}}},
{"data":{"name":"gaps"},"transform":[{"filter":"datum.p=='b2'"}],"mark":{"type":"text","align":"right","baseline":"middle","font":"Liberation Serif","fontSize":17,"fontWeight":"bold","fontStyle":"italic","color":"#1a1a1a"},"encoding":{"x":{"datum":3.83,"type":"quantitative","scale":{"domain":[0,4],"nice":false,"zero":false},"axis":null},"y":{"datum":-2.93,"type":"quantitative","scale":{"domain":[-3.55,5],"nice":false,"zero":false},"axis":null},"text":{"field":"m"}}},
{"data":{"name":"gaps"},"transform":[{"filter":"datum.p=='b2'"}],"mark":{"type":"rect","filled":false,"color":"#e8141c","strokeWidth":4.5,"clip":false},"encoding":{"x":{"datum":-0.17,"type":"quantitative","scale":{"domain":[0,4],"nice":false,"zero":false},"axis":null},"x2":{"datum":4.1},"y":{"datum":-4.35,"type":"quantitative","scale":{"domain":[-3.55,5],"nice":false,"zero":false},"axis":null},"y2":{"datum":5.15}}}
]},
{"width":137,"height":229,"resolve":{"axis":{"y":"independent"}},"layer":[
{"data":{"name":"gaps"},"transform":[{"filter":"datum.p=='b3'"}],"mark":{"type":"rect","color":"#b5bfe6"},"encoding":{"x":{"datum":0,"type":"quantitative","scale":{"domain":[0,4],"nice":false,"zero":false},"axis":null},"x2":{"datum":4},"y":{"field":"vbm","type":"quantitative","scale":{"domain":[-3.55,5],"nice":false,"zero":false},"axis":{"orient":"right","values":[-3,-2.25,-1.5,-0.75,0,0.75,1.5,2.25,3,3.75,4.5],"labels":false,"title":null,"tickSize":-5,"tickColor":"#222","domain":false,"grid":false}},"y2":{"field":"cbm"}}},
{"data":{"name":"sym"},"mark":{"type":"rule","color":"#4b55d0","strokeDash":[4,3],"strokeWidth":1},"encoding":{"x":{"field":"k","type":"quantitative","scale":{"domain":[0,4],"nice":false,"zero":false},"axis":null}}},
{"data":{"name":"bands"},"transform":[{"filter":"datum.p=='b3'"}],"mark":{"type":"line","color":"#141414","strokeWidth":1.4,"interpolate":"monotone","clip":true},"encoding":{"x":{"field":"x","type":"quantitative","scale":{"domain":[0,4],"nice":false,"zero":false},"axis":null},"y":{"field":"y","type":"quantitative","scale":{"domain":[-3.55,5],"nice":false,"zero":false},"axis":{"orient":"left","values":[-3,-2.25,-1.5,-0.75,0,0.75,1.5,2.25,3,3.75,4.5],"labels":false,"title":null,"tickSize":-5,"tickColor":"#222","domain":false,"grid":false}},"detail":{"field":"b"}}},
{"data":{"name":"kp"},"mark":{"type":"text","baseline":"top","dy":3,"align":{"expr":"datum.k==0 ? 'left' : datum.k==4 ? 'right' : 'center'"},"dx":{"expr":"datum.k==0 ? -3 : datum.k==4 ? 3 : 0"},"font":"Liberation Serif","fontSize":16,"color":"#111","clip":false},"encoding":{"x":{"field":"k","type":"quantitative","scale":{"domain":[0,4],"nice":false,"zero":false},"axis":null},"y":{"datum":-3.55,"type":"quantitative","scale":{"domain":[-3.55,5],"nice":false,"zero":false},"axis":null},"text":{"field":"n"}}},
{"data":{"name":"dots"},"transform":[{"filter":"datum.p=='b3'"}],"mark":{"type":"circle","size":55,"opacity":1},"encoding":{"x":{"field":"x","type":"quantitative","scale":{"domain":[0,4],"nice":false,"zero":false},"axis":null},"y":{"field":"y","type":"quantitative","scale":{"domain":[-3.55,5],"nice":false,"zero":false},"axis":null},"color":{"field":"t","type":"nominal","scale":{"domain":["CBM","VBM"],"range":["#e3201b","#2e9a2e"]},"legend":null}}},
{"data":{"name":"gaps"},"transform":[{"filter":"datum.p=='b3'"}],"mark":{"type":"rect","color":"#d5d5d5"},"encoding":{"x":{"datum":2.2,"type":"quantitative","scale":{"domain":[0,4],"nice":false,"zero":false},"axis":null},"x2":{"datum":3.95},"y":{"datum":-2.45,"type":"quantitative","scale":{"domain":[-3.55,5],"nice":false,"zero":false},"axis":null},"y2":{"datum":-3.4}}},
{"data":{"name":"gaps"},"transform":[{"filter":"datum.p=='b3'"}],"mark":{"type":"text","align":"right","baseline":"middle","font":"Liberation Serif","fontSize":17,"fontWeight":"bold","fontStyle":"italic","color":"#1a1a1a"},"encoding":{"x":{"datum":3.86,"type":"quantitative","scale":{"domain":[0,4],"nice":false,"zero":false},"axis":null},"y":{"datum":-2.93,"type":"quantitative","scale":{"domain":[-3.55,5],"nice":false,"zero":false},"axis":null},"text":{"field":"m"}}},
{"data":{"name":"gaps"},"transform":[{"filter":"datum.p=='b3'"}],"mark":{"type":"rect","filled":false,"color":"#2b4c8c","strokeWidth":4,"clip":false},"encoding":{"x":{"datum":-0.17,"type":"quantitative","scale":{"domain":[0,4],"nice":false,"zero":false},"axis":null},"x2":{"datum":4.1},"y":{"datum":-4.35,"type":"quantitative","scale":{"domain":[-3.55,5],"nice":false,"zero":false},"axis":null},"y2":{"datum":5.15}}}
]},
{"width":137,"height":229,"resolve":{"axis":{"y":"independent"}},"layer":[
{"data":{"name":"gaps"},"transform":[{"filter":"datum.p=='b4'"}],"mark":{"type":"rect","color":"#b5bfe6"},"encoding":{"x":{"datum":0,"type":"quantitative","scale":{"domain":[0,4],"nice":false,"zero":false},"axis":null},"x2":{"datum":4},"y":{"field":"vbm","type":"quantitative","scale":{"domain":[-3.55,5],"nice":false,"zero":false},"axis":{"orient":"right","values":[-3,-2.25,-1.5,-0.75,0,0.75,1.5,2.25,3,3.75,4.5],"labels":false,"title":null,"tickSize":-5,"tickColor":"#222","domain":false,"grid":false}},"y2":{"field":"cbm"}}},
{"data":{"name":"sym"},"mark":{"type":"rule","color":"#4b55d0","strokeDash":[4,3],"strokeWidth":1},"encoding":{"x":{"field":"k","type":"quantitative","scale":{"domain":[0,4],"nice":false,"zero":false},"axis":null}}},
{"data":{"name":"bands"},"transform":[{"filter":"datum.p=='b4'"}],"mark":{"type":"line","color":"#141414","strokeWidth":1.4,"interpolate":"monotone","clip":true},"encoding":{"x":{"field":"x","type":"quantitative","scale":{"domain":[0,4],"nice":false,"zero":false},"axis":null},"y":{"field":"y","type":"quantitative","scale":{"domain":[-3.55,5],"nice":false,"zero":false},"axis":{"orient":"left","values":[-3,-2.25,-1.5,-0.75,0,0.75,1.5,2.25,3,3.75,4.5],"labels":false,"title":null,"tickSize":-5,"tickColor":"#222","domain":false,"grid":false}},"detail":{"field":"b"}}},
{"data":{"name":"kp"},"mark":{"type":"text","baseline":"top","dy":3,"align":{"expr":"datum.k==0 ? 'left' : datum.k==4 ? 'right' : 'center'"},"dx":{"expr":"datum.k==0 ? -3 : datum.k==4 ? 3 : 0"},"font":"Liberation Serif","fontSize":16,"color":"#111","clip":false},"encoding":{"x":{"field":"k","type":"quantitative","scale":{"domain":[0,4],"nice":false,"zero":false},"axis":null},"y":{"datum":-3.55,"type":"quantitative","scale":{"domain":[-3.55,5],"nice":false,"zero":false},"axis":null},"text":{"field":"n"}}},
{"data":{"name":"dots"},"transform":[{"filter":"datum.p=='b4'"}],"mark":{"type":"circle","size":55,"opacity":1},"encoding":{"x":{"field":"x","type":"quantitative","scale":{"domain":[0,4],"nice":false,"zero":false},"axis":null},"y":{"field":"y","type":"quantitative","scale":{"domain":[-3.55,5],"nice":false,"zero":false},"axis":null},"color":{"field":"t","type":"nominal","scale":{"domain":["CBM","VBM"],"range":["#e3201b","#2e9a2e"]},"legend":null}}},
{"data":{"name":"gaps"},"transform":[{"filter":"datum.p=='b4'"}],"mark":{"type":"rect","color":"#d5d5d5"},"encoding":{"x":{"datum":1.95,"type":"quantitative","scale":{"domain":[0,4],"nice":false,"zero":false},"axis":null},"x2":{"datum":3.97},"y":{"datum":-2.45,"type":"quantitative","scale":{"domain":[-3.55,5],"nice":false,"zero":false},"axis":null},"y2":{"datum":-3.4}}},
{"data":{"name":"gaps"},"transform":[{"filter":"datum.p=='b4'"}],"mark":{"type":"text","align":"right","baseline":"middle","font":"Liberation Serif","fontSize":17,"fontWeight":"bold","fontStyle":"italic","color":"#1a1a1a"},"encoding":{"x":{"datum":3.86,"type":"quantitative","scale":{"domain":[0,4],"nice":false,"zero":false},"axis":null},"y":{"datum":-2.93,"type":"quantitative","scale":{"domain":[-3.55,5],"nice":false,"zero":false},"axis":null},"text":{"field":"m"}}},
{"data":{"name":"heads"},"transform":[{"filter":"datum.r=='Bulk'"}],"mark":{"type":"text","align":"right","baseline":"alphabetic","font":"Liberation Serif","fontSize":24,"fontWeight":"bold","color":"#1a1a1a"},"encoding":{"x":{"datum":3.88,"type":"quantitative","scale":{"domain":[0,4],"nice":false,"zero":false},"axis":null},"y":{"datum":5.26,"type":"quantitative","scale":{"domain":[-3.55,5],"nice":false,"zero":false},"axis":null},"text":{"field":"r"}}},
{"data":{"name":"gaps"},"transform":[{"filter":"datum.p=='b4'"}],"mark":{"type":"rect","filled":false,"color":"#2b4c8c","strokeWidth":4,"clip":false},"encoding":{"x":{"datum":-0.17,"type":"quantitative","scale":{"domain":[0,4],"nice":false,"zero":false},"axis":null},"x2":{"datum":4.1},"y":{"datum":-4.35,"type":"quantitative","scale":{"domain":[-3.55,5],"nice":false,"zero":false},"axis":null},"y2":{"datum":5.15}}}
]}
]
}
